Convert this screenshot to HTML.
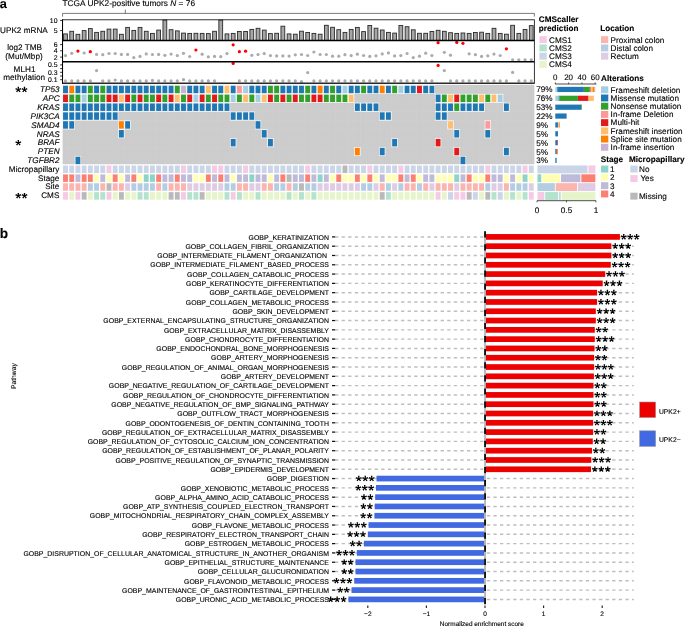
<!DOCTYPE html>
<html><head><meta charset="utf-8"><title>Figure</title>
<style>html,body{margin:0;padding:0;background:#fff}svg{display:block;will-change:transform}text{font-family:"Liberation Sans",sans-serif;fill:#000;stroke:#000;stroke-width:1.2px;text-rendering:geometricPrecision}</style>
</head><body>
<svg width="685" height="627" viewBox="0 0 685 627">
<rect width="685" height="627" fill="#fff"/>
<defs><path id="st" d="M0.42 0.00L0.78 -2.85L-0.78 -2.85L-0.42 -0.00ZM0.13 0.40L2.95 -0.14L2.47 -1.62L-0.13 -0.40ZM-0.34 0.25L1.04 2.76L2.31 1.85L0.34 -0.25ZM-0.34 -0.25L-2.31 1.85L-1.04 2.76L0.34 0.25ZM0.13 -0.40L-2.47 -1.62L-2.95 -0.14L-0.13 0.40Z" fill="#000"/></defs>
<text transform="translate(-0.20,7.50) scale(0.1)" font-size="128.0" text-anchor="start" font-weight="bold" font-style="normal" >a</text>
<text transform="translate(62.40,6.40) scale(0.1)" font-size="83.3" text-anchor="start" font-weight="normal" font-style="normal" >TCGA UPK2-positive tumors <tspan font-style="italic">N</tspan> = 76</text>
<path d="M62.55 16.6V13.4H534.36V16.6M125.3 13.4V9.6" fill="none" stroke="#222" stroke-width="0.6"/>
<rect x="63.60" y="33.90" width="3.80" height="6.60" fill="#a6a6a6" stroke="#2a2a2a" stroke-width="0.9"/>
<rect x="69.81" y="31.30" width="3.80" height="9.20" fill="#a6a6a6" stroke="#2a2a2a" stroke-width="0.9"/>
<rect x="76.02" y="34.30" width="3.80" height="6.20" fill="#a6a6a6" stroke="#2a2a2a" stroke-width="0.9"/>
<rect x="82.23" y="30.60" width="3.80" height="9.90" fill="#a6a6a6" stroke="#2a2a2a" stroke-width="0.9"/>
<rect x="88.44" y="28.60" width="3.80" height="11.90" fill="#a6a6a6" stroke="#2a2a2a" stroke-width="0.9"/>
<rect x="94.66" y="32.40" width="3.80" height="8.10" fill="#a6a6a6" stroke="#2a2a2a" stroke-width="0.9"/>
<rect x="100.86" y="31.30" width="3.80" height="9.20" fill="#a6a6a6" stroke="#2a2a2a" stroke-width="0.9"/>
<rect x="107.08" y="29.10" width="3.80" height="11.40" fill="#a6a6a6" stroke="#2a2a2a" stroke-width="0.9"/>
<rect x="113.28" y="29.10" width="3.80" height="11.40" fill="#a6a6a6" stroke="#2a2a2a" stroke-width="0.9"/>
<rect x="119.49" y="34.30" width="3.80" height="6.20" fill="#a6a6a6" stroke="#2a2a2a" stroke-width="0.9"/>
<rect x="125.70" y="27.40" width="3.80" height="13.10" fill="#a6a6a6" stroke="#2a2a2a" stroke-width="0.9"/>
<rect x="131.91" y="30.40" width="3.80" height="10.10" fill="#a6a6a6" stroke="#2a2a2a" stroke-width="0.9"/>
<rect x="138.12" y="27.40" width="3.80" height="13.10" fill="#a6a6a6" stroke="#2a2a2a" stroke-width="0.9"/>
<rect x="144.33" y="31.30" width="3.80" height="9.20" fill="#a6a6a6" stroke="#2a2a2a" stroke-width="0.9"/>
<rect x="150.54" y="33.40" width="3.80" height="7.10" fill="#a6a6a6" stroke="#2a2a2a" stroke-width="0.9"/>
<rect x="156.75" y="30.10" width="3.80" height="10.40" fill="#a6a6a6" stroke="#2a2a2a" stroke-width="0.9"/>
<rect x="162.96" y="20.10" width="3.80" height="20.40" fill="#a6a6a6" stroke="#2a2a2a" stroke-width="0.9"/>
<rect x="169.17" y="29.70" width="3.80" height="10.80" fill="#a6a6a6" stroke="#2a2a2a" stroke-width="0.9"/>
<rect x="175.38" y="30.90" width="3.80" height="9.60" fill="#a6a6a6" stroke="#2a2a2a" stroke-width="0.9"/>
<rect x="181.59" y="33.10" width="3.80" height="7.40" fill="#a6a6a6" stroke="#2a2a2a" stroke-width="0.9"/>
<rect x="187.80" y="33.40" width="3.80" height="7.10" fill="#a6a6a6" stroke="#2a2a2a" stroke-width="0.9"/>
<rect x="194.01" y="33.30" width="3.80" height="7.20" fill="#a6a6a6" stroke="#2a2a2a" stroke-width="0.9"/>
<rect x="200.22" y="33.40" width="3.80" height="7.10" fill="#a6a6a6" stroke="#2a2a2a" stroke-width="0.9"/>
<rect x="206.44" y="33.60" width="3.80" height="6.90" fill="#a6a6a6" stroke="#2a2a2a" stroke-width="0.9"/>
<rect x="212.64" y="31.30" width="3.80" height="9.20" fill="#a6a6a6" stroke="#2a2a2a" stroke-width="0.9"/>
<rect x="218.85" y="20.10" width="3.80" height="20.40" fill="#a6a6a6" stroke="#2a2a2a" stroke-width="0.9"/>
<rect x="225.06" y="33.90" width="3.80" height="6.60" fill="#a6a6a6" stroke="#2a2a2a" stroke-width="0.9"/>
<rect x="231.27" y="33.40" width="3.80" height="7.10" fill="#a6a6a6" stroke="#2a2a2a" stroke-width="0.9"/>
<rect x="237.48" y="31.50" width="3.80" height="9.00" fill="#a6a6a6" stroke="#2a2a2a" stroke-width="0.9"/>
<rect x="243.69" y="31.50" width="3.80" height="9.00" fill="#a6a6a6" stroke="#2a2a2a" stroke-width="0.9"/>
<rect x="249.91" y="29.40" width="3.80" height="11.10" fill="#a6a6a6" stroke="#2a2a2a" stroke-width="0.9"/>
<rect x="256.12" y="28.30" width="3.80" height="12.20" fill="#a6a6a6" stroke="#2a2a2a" stroke-width="0.9"/>
<rect x="262.33" y="30.10" width="3.80" height="10.40" fill="#a6a6a6" stroke="#2a2a2a" stroke-width="0.9"/>
<rect x="268.54" y="33.60" width="3.80" height="6.90" fill="#a6a6a6" stroke="#2a2a2a" stroke-width="0.9"/>
<rect x="274.75" y="33.30" width="3.80" height="7.20" fill="#a6a6a6" stroke="#2a2a2a" stroke-width="0.9"/>
<rect x="280.96" y="26.20" width="3.80" height="14.30" fill="#a6a6a6" stroke="#2a2a2a" stroke-width="0.9"/>
<rect x="287.17" y="33.90" width="3.80" height="6.60" fill="#a6a6a6" stroke="#2a2a2a" stroke-width="0.9"/>
<rect x="293.38" y="34.20" width="3.80" height="6.30" fill="#a6a6a6" stroke="#2a2a2a" stroke-width="0.9"/>
<rect x="299.59" y="31.20" width="3.80" height="9.30" fill="#a6a6a6" stroke="#2a2a2a" stroke-width="0.9"/>
<rect x="305.80" y="32.50" width="3.80" height="8.00" fill="#a6a6a6" stroke="#2a2a2a" stroke-width="0.9"/>
<rect x="312.01" y="33.40" width="3.80" height="7.10" fill="#a6a6a6" stroke="#2a2a2a" stroke-width="0.9"/>
<rect x="318.22" y="34.20" width="3.80" height="6.30" fill="#a6a6a6" stroke="#2a2a2a" stroke-width="0.9"/>
<rect x="324.43" y="25.30" width="3.80" height="15.20" fill="#a6a6a6" stroke="#2a2a2a" stroke-width="0.9"/>
<rect x="330.63" y="27.30" width="3.80" height="13.20" fill="#a6a6a6" stroke="#2a2a2a" stroke-width="0.9"/>
<rect x="336.85" y="29.70" width="3.80" height="10.80" fill="#a6a6a6" stroke="#2a2a2a" stroke-width="0.9"/>
<rect x="343.06" y="32.40" width="3.80" height="8.10" fill="#a6a6a6" stroke="#2a2a2a" stroke-width="0.9"/>
<rect x="349.27" y="29.40" width="3.80" height="11.10" fill="#a6a6a6" stroke="#2a2a2a" stroke-width="0.9"/>
<rect x="355.48" y="27.40" width="3.80" height="13.10" fill="#a6a6a6" stroke="#2a2a2a" stroke-width="0.9"/>
<rect x="361.69" y="31.60" width="3.80" height="8.90" fill="#a6a6a6" stroke="#2a2a2a" stroke-width="0.9"/>
<rect x="367.90" y="25.50" width="3.80" height="15.00" fill="#a6a6a6" stroke="#2a2a2a" stroke-width="0.9"/>
<rect x="374.11" y="28.20" width="3.80" height="12.30" fill="#a6a6a6" stroke="#2a2a2a" stroke-width="0.9"/>
<rect x="380.31" y="30.00" width="3.80" height="10.50" fill="#a6a6a6" stroke="#2a2a2a" stroke-width="0.9"/>
<rect x="386.53" y="32.40" width="3.80" height="8.10" fill="#a6a6a6" stroke="#2a2a2a" stroke-width="0.9"/>
<rect x="392.74" y="33.10" width="3.80" height="7.40" fill="#a6a6a6" stroke="#2a2a2a" stroke-width="0.9"/>
<rect x="398.94" y="25.50" width="3.80" height="15.00" fill="#a6a6a6" stroke="#2a2a2a" stroke-width="0.9"/>
<rect x="405.16" y="26.70" width="3.80" height="13.80" fill="#a6a6a6" stroke="#2a2a2a" stroke-width="0.9"/>
<rect x="411.37" y="29.80" width="3.80" height="10.70" fill="#a6a6a6" stroke="#2a2a2a" stroke-width="0.9"/>
<rect x="417.57" y="33.30" width="3.80" height="7.20" fill="#a6a6a6" stroke="#2a2a2a" stroke-width="0.9"/>
<rect x="423.79" y="33.30" width="3.80" height="7.20" fill="#a6a6a6" stroke="#2a2a2a" stroke-width="0.9"/>
<rect x="430.00" y="31.50" width="3.80" height="9.00" fill="#a6a6a6" stroke="#2a2a2a" stroke-width="0.9"/>
<rect x="436.21" y="30.30" width="3.80" height="10.20" fill="#a6a6a6" stroke="#2a2a2a" stroke-width="0.9"/>
<rect x="442.42" y="31.30" width="3.80" height="9.20" fill="#a6a6a6" stroke="#2a2a2a" stroke-width="0.9"/>
<rect x="448.62" y="32.70" width="3.80" height="7.80" fill="#a6a6a6" stroke="#2a2a2a" stroke-width="0.9"/>
<rect x="454.84" y="33.40" width="3.80" height="7.10" fill="#a6a6a6" stroke="#2a2a2a" stroke-width="0.9"/>
<rect x="461.05" y="33.00" width="3.80" height="7.50" fill="#a6a6a6" stroke="#2a2a2a" stroke-width="0.9"/>
<rect x="467.25" y="33.40" width="3.80" height="7.10" fill="#a6a6a6" stroke="#2a2a2a" stroke-width="0.9"/>
<rect x="473.47" y="32.50" width="3.80" height="8.00" fill="#a6a6a6" stroke="#2a2a2a" stroke-width="0.9"/>
<rect x="479.68" y="32.20" width="3.80" height="8.30" fill="#a6a6a6" stroke="#2a2a2a" stroke-width="0.9"/>
<rect x="485.88" y="33.40" width="3.80" height="7.10" fill="#a6a6a6" stroke="#2a2a2a" stroke-width="0.9"/>
<rect x="492.10" y="28.30" width="3.80" height="12.20" fill="#a6a6a6" stroke="#2a2a2a" stroke-width="0.9"/>
<rect x="498.31" y="33.40" width="3.80" height="7.10" fill="#a6a6a6" stroke="#2a2a2a" stroke-width="0.9"/>
<rect x="504.52" y="34.20" width="3.80" height="6.30" fill="#a6a6a6" stroke="#2a2a2a" stroke-width="0.9"/>
<rect x="510.73" y="25.30" width="3.80" height="15.20" fill="#a6a6a6" stroke="#2a2a2a" stroke-width="0.9"/>
<rect x="516.94" y="33.40" width="3.80" height="7.10" fill="#a6a6a6" stroke="#2a2a2a" stroke-width="0.9"/>
<rect x="523.15" y="29.50" width="3.80" height="11.00" fill="#a6a6a6" stroke="#2a2a2a" stroke-width="0.9"/>
<rect x="529.36" y="25.60" width="3.80" height="14.90" fill="#a6a6a6" stroke="#2a2a2a" stroke-width="0.9"/>
<circle cx="65.50" cy="55.60" r="1.6" fill="#ababab"/>
<circle cx="71.72" cy="53.30" r="1.6" fill="#ababab"/>
<circle cx="77.92" cy="51.10" r="1.6" fill="#ff0000"/>
<circle cx="84.14" cy="53.00" r="1.6" fill="#ababab"/>
<circle cx="90.34" cy="51.70" r="1.6" fill="#ff0000"/>
<circle cx="96.56" cy="54.40" r="1.6" fill="#ababab"/>
<circle cx="102.77" cy="54.70" r="1.6" fill="#ababab"/>
<circle cx="108.98" cy="53.50" r="1.6" fill="#ababab"/>
<circle cx="115.19" cy="53.50" r="1.6" fill="#ababab"/>
<circle cx="121.39" cy="54.40" r="1.6" fill="#ababab"/>
<circle cx="127.61" cy="54.40" r="1.6" fill="#ababab"/>
<circle cx="133.81" cy="57.60" r="1.6" fill="#ababab"/>
<circle cx="140.02" cy="56.40" r="1.6" fill="#ababab"/>
<circle cx="146.23" cy="53.90" r="1.6" fill="#ababab"/>
<circle cx="152.44" cy="54.50" r="1.6" fill="#ababab"/>
<circle cx="158.66" cy="54.40" r="1.6" fill="#ababab"/>
<circle cx="164.86" cy="55.30" r="1.6" fill="#ababab"/>
<circle cx="171.07" cy="54.10" r="1.6" fill="#ababab"/>
<circle cx="177.28" cy="55.60" r="1.6" fill="#ababab"/>
<circle cx="183.49" cy="53.30" r="1.6" fill="#ababab"/>
<circle cx="189.70" cy="56.50" r="1.6" fill="#ababab"/>
<circle cx="195.91" cy="50.00" r="1.6" fill="#ff0000"/>
<circle cx="202.12" cy="54.20" r="1.6" fill="#ababab"/>
<circle cx="208.34" cy="56.80" r="1.6" fill="#ababab"/>
<circle cx="214.54" cy="56.40" r="1.6" fill="#ababab"/>
<circle cx="220.75" cy="56.70" r="1.6" fill="#ababab"/>
<circle cx="226.97" cy="53.60" r="1.6" fill="#ababab"/>
<circle cx="233.17" cy="44.80" r="1.6" fill="#ff0000"/>
<circle cx="239.38" cy="51.70" r="1.6" fill="#ff0000"/>
<circle cx="245.59" cy="51.20" r="1.6" fill="#ff0000"/>
<circle cx="251.81" cy="55.30" r="1.6" fill="#ababab"/>
<circle cx="258.01" cy="54.50" r="1.6" fill="#ababab"/>
<circle cx="264.23" cy="53.60" r="1.6" fill="#ababab"/>
<circle cx="270.44" cy="55.60" r="1.6" fill="#ababab"/>
<circle cx="276.64" cy="55.90" r="1.6" fill="#ababab"/>
<circle cx="282.86" cy="55.90" r="1.6" fill="#ababab"/>
<circle cx="289.06" cy="56.10" r="1.6" fill="#ababab"/>
<circle cx="295.28" cy="54.80" r="1.6" fill="#ababab"/>
<circle cx="301.49" cy="54.50" r="1.6" fill="#ababab"/>
<circle cx="307.69" cy="55.50" r="1.6" fill="#ababab"/>
<circle cx="313.91" cy="52.00" r="1.6" fill="#ababab"/>
<circle cx="320.12" cy="54.50" r="1.6" fill="#ababab"/>
<circle cx="326.32" cy="54.50" r="1.6" fill="#ababab"/>
<circle cx="332.53" cy="56.20" r="1.6" fill="#ababab"/>
<circle cx="338.75" cy="56.20" r="1.6" fill="#ababab"/>
<circle cx="344.95" cy="54.70" r="1.6" fill="#ababab"/>
<circle cx="351.17" cy="55.60" r="1.6" fill="#ababab"/>
<circle cx="357.38" cy="54.20" r="1.6" fill="#ababab"/>
<circle cx="363.58" cy="55.50" r="1.6" fill="#ababab"/>
<circle cx="369.80" cy="56.40" r="1.6" fill="#ababab"/>
<circle cx="376.00" cy="55.80" r="1.6" fill="#ababab"/>
<circle cx="382.21" cy="53.90" r="1.6" fill="#ababab"/>
<circle cx="388.43" cy="52.90" r="1.6" fill="#ababab"/>
<circle cx="394.63" cy="55.90" r="1.6" fill="#ababab"/>
<circle cx="400.84" cy="55.60" r="1.6" fill="#ababab"/>
<circle cx="407.06" cy="53.50" r="1.6" fill="#ababab"/>
<circle cx="413.26" cy="57.60" r="1.6" fill="#ababab"/>
<circle cx="419.47" cy="56.20" r="1.6" fill="#ababab"/>
<circle cx="425.69" cy="53.20" r="1.6" fill="#ababab"/>
<circle cx="431.89" cy="55.50" r="1.6" fill="#ababab"/>
<circle cx="438.11" cy="42.70" r="1.6" fill="#ff0000"/>
<circle cx="444.31" cy="52.30" r="1.6" fill="#ababab"/>
<circle cx="450.52" cy="55.20" r="1.6" fill="#ababab"/>
<circle cx="456.74" cy="42.40" r="1.6" fill="#ff0000"/>
<circle cx="462.94" cy="43.30" r="1.6" fill="#ff0000"/>
<circle cx="469.15" cy="53.80" r="1.6" fill="#ababab"/>
<circle cx="475.37" cy="54.70" r="1.6" fill="#ababab"/>
<circle cx="481.57" cy="56.40" r="1.6" fill="#ababab"/>
<circle cx="487.78" cy="55.80" r="1.6" fill="#ababab"/>
<circle cx="494.00" cy="54.10" r="1.6" fill="#ababab"/>
<circle cx="500.20" cy="55.50" r="1.6" fill="#ababab"/>
<circle cx="506.42" cy="48.80" r="1.6" fill="#ff0000"/>
<circle cx="512.62" cy="59.80" r="1.6" fill="#ababab"/>
<circle cx="518.84" cy="59.80" r="1.6" fill="#ababab"/>
<circle cx="525.05" cy="59.80" r="1.6" fill="#ababab"/>
<circle cx="531.25" cy="59.80" r="1.6" fill="#ababab"/>
<circle cx="65.50" cy="80.90" r="1.6" fill="#ababab"/>
<circle cx="71.72" cy="80.90" r="1.6" fill="#ababab"/>
<circle cx="77.92" cy="80.90" r="1.6" fill="#ababab"/>
<circle cx="84.14" cy="80.90" r="1.6" fill="#ababab"/>
<circle cx="90.34" cy="80.90" r="1.6" fill="#ababab"/>
<circle cx="96.56" cy="70.60" r="1.6" fill="#ababab"/>
<circle cx="102.77" cy="80.90" r="1.6" fill="#ababab"/>
<circle cx="108.98" cy="80.90" r="1.6" fill="#ababab"/>
<circle cx="115.19" cy="80.10" r="1.6" fill="#ababab"/>
<circle cx="121.39" cy="80.90" r="1.6" fill="#ababab"/>
<circle cx="127.61" cy="80.90" r="1.6" fill="#ababab"/>
<circle cx="133.81" cy="80.90" r="1.6" fill="#ababab"/>
<circle cx="140.02" cy="80.90" r="1.6" fill="#ababab"/>
<circle cx="146.23" cy="80.90" r="1.6" fill="#ababab"/>
<circle cx="152.44" cy="80.40" r="1.6" fill="#ababab"/>
<circle cx="158.66" cy="80.90" r="1.6" fill="#ababab"/>
<circle cx="164.86" cy="80.90" r="1.6" fill="#ababab"/>
<circle cx="171.07" cy="80.90" r="1.6" fill="#ababab"/>
<circle cx="177.28" cy="80.90" r="1.6" fill="#ababab"/>
<circle cx="183.49" cy="79.70" r="1.6" fill="#ababab"/>
<circle cx="189.70" cy="80.90" r="1.6" fill="#ababab"/>
<circle cx="195.91" cy="80.90" r="1.6" fill="#ababab"/>
<circle cx="202.12" cy="80.90" r="1.6" fill="#ababab"/>
<circle cx="208.34" cy="80.90" r="1.6" fill="#ababab"/>
<circle cx="214.54" cy="80.90" r="1.6" fill="#ababab"/>
<circle cx="233.17" cy="63.40" r="1.6" fill="#ff0000"/>
<circle cx="239.38" cy="80.90" r="1.6" fill="#ababab"/>
<circle cx="245.59" cy="80.90" r="1.6" fill="#ababab"/>
<circle cx="251.81" cy="80.90" r="1.6" fill="#ababab"/>
<circle cx="258.01" cy="80.90" r="1.6" fill="#ababab"/>
<circle cx="264.23" cy="80.90" r="1.6" fill="#ababab"/>
<circle cx="270.44" cy="80.90" r="1.6" fill="#ababab"/>
<circle cx="276.64" cy="80.90" r="1.6" fill="#ababab"/>
<circle cx="282.86" cy="80.90" r="1.6" fill="#ababab"/>
<circle cx="289.06" cy="80.90" r="1.6" fill="#ababab"/>
<circle cx="295.28" cy="80.90" r="1.6" fill="#ababab"/>
<circle cx="301.49" cy="81.50" r="1.6" fill="#ababab"/>
<circle cx="307.69" cy="72.60" r="1.6" fill="#ababab"/>
<circle cx="313.91" cy="80.90" r="1.6" fill="#ababab"/>
<circle cx="320.12" cy="80.90" r="1.6" fill="#ababab"/>
<circle cx="326.32" cy="80.90" r="1.6" fill="#ababab"/>
<circle cx="332.53" cy="80.90" r="1.6" fill="#ababab"/>
<circle cx="338.75" cy="80.90" r="1.6" fill="#ababab"/>
<circle cx="344.95" cy="80.90" r="1.6" fill="#ababab"/>
<circle cx="351.17" cy="80.90" r="1.6" fill="#ababab"/>
<circle cx="357.38" cy="80.90" r="1.6" fill="#ababab"/>
<circle cx="363.58" cy="80.90" r="1.6" fill="#ababab"/>
<circle cx="369.80" cy="80.90" r="1.6" fill="#ababab"/>
<circle cx="376.00" cy="80.90" r="1.6" fill="#ababab"/>
<circle cx="382.21" cy="80.90" r="1.6" fill="#ababab"/>
<circle cx="388.43" cy="80.90" r="1.6" fill="#ababab"/>
<circle cx="394.63" cy="80.90" r="1.6" fill="#ababab"/>
<circle cx="400.84" cy="80.90" r="1.6" fill="#ababab"/>
<circle cx="407.06" cy="80.90" r="1.6" fill="#ababab"/>
<circle cx="413.26" cy="80.90" r="1.6" fill="#ababab"/>
<circle cx="419.47" cy="80.90" r="1.6" fill="#ababab"/>
<circle cx="425.69" cy="80.90" r="1.6" fill="#ababab"/>
<circle cx="431.89" cy="80.90" r="1.6" fill="#ababab"/>
<circle cx="438.11" cy="65.40" r="1.6" fill="#ff0000"/>
<circle cx="444.31" cy="70.60" r="1.6" fill="#ababab"/>
<circle cx="450.52" cy="80.90" r="1.6" fill="#ababab"/>
<circle cx="456.74" cy="80.90" r="1.6" fill="#ababab"/>
<circle cx="462.94" cy="80.90" r="1.6" fill="#ababab"/>
<circle cx="469.15" cy="80.90" r="1.6" fill="#ababab"/>
<circle cx="475.37" cy="80.90" r="1.6" fill="#ababab"/>
<circle cx="481.57" cy="80.90" r="1.6" fill="#ababab"/>
<circle cx="487.78" cy="80.90" r="1.6" fill="#ababab"/>
<circle cx="494.00" cy="80.90" r="1.6" fill="#ababab"/>
<circle cx="500.20" cy="80.90" r="1.6" fill="#ababab"/>
<circle cx="506.42" cy="80.90" r="1.6" fill="#ababab"/>
<circle cx="512.62" cy="72.40" r="1.6" fill="#ababab"/>
<circle cx="518.84" cy="80.90" r="1.6" fill="#ababab"/>
<circle cx="525.05" cy="80.90" r="1.6" fill="#ababab"/>
<circle cx="531.25" cy="80.90" r="1.6" fill="#ababab"/>
<rect x="62.55" y="19.8" width="471.81" height="63.400000000000006" fill="none" stroke="#111" stroke-width="0.85"/>
<line x1="62.55" y1="19.45" x2="62.55" y2="83.70" stroke="#000" stroke-width="1.0" />
<line x1="62.05" y1="40.50" x2="534.36" y2="40.50" stroke="#000" stroke-width="1.6" />
<line x1="62.05" y1="61.80" x2="534.36" y2="61.80" stroke="#000" stroke-width="1.6" />
<line x1="62.05" y1="83.20" x2="534.36" y2="83.20" stroke="#000" stroke-width="0.85" />
<line x1="60.10" y1="20.40" x2="62.30" y2="20.40" stroke="#000" stroke-width="0.8" />
<text transform="translate(57.50,22.85) scale(0.1)" font-size="69.0" text-anchor="end" font-weight="normal" font-style="normal" >10</text>
<line x1="60.10" y1="30.60" x2="62.30" y2="30.60" stroke="#000" stroke-width="0.8" />
<text transform="translate(57.50,33.05) scale(0.1)" font-size="69.0" text-anchor="end" font-weight="normal" font-style="normal" >5</text>
<line x1="60.10" y1="44.60" x2="62.30" y2="44.60" stroke="#000" stroke-width="0.8" />
<text transform="translate(57.50,47.05) scale(0.1)" font-size="69.0" text-anchor="end" font-weight="normal" font-style="normal" >6</text>
<line x1="60.10" y1="50.80" x2="62.30" y2="50.80" stroke="#000" stroke-width="0.8" />
<text transform="translate(57.50,53.25) scale(0.1)" font-size="69.0" text-anchor="end" font-weight="normal" font-style="normal" >4</text>
<line x1="60.10" y1="57.10" x2="62.30" y2="57.10" stroke="#000" stroke-width="0.8" />
<text transform="translate(57.50,59.55) scale(0.1)" font-size="69.0" text-anchor="end" font-weight="normal" font-style="normal" >2</text>
<line x1="60.10" y1="64.90" x2="62.30" y2="64.90" stroke="#000" stroke-width="0.8" />
<text transform="translate(57.50,67.35) scale(0.1)" font-size="69.0" text-anchor="end" font-weight="normal" font-style="normal" >0.5</text>
<line x1="60.10" y1="68.60" x2="62.30" y2="68.60" stroke="#000" stroke-width="0.8" />
<line x1="60.10" y1="72.30" x2="62.30" y2="72.30" stroke="#000" stroke-width="0.8" />
<text transform="translate(57.50,74.75) scale(0.1)" font-size="69.0" text-anchor="end" font-weight="normal" font-style="normal" >0.3</text>
<line x1="60.10" y1="76.00" x2="62.30" y2="76.00" stroke="#000" stroke-width="0.8" />
<line x1="60.10" y1="79.70" x2="62.30" y2="79.70" stroke="#000" stroke-width="0.8" />
<text transform="translate(57.50,82.15) scale(0.1)" font-size="69.0" text-anchor="end" font-weight="normal" font-style="normal" >0.1</text>
<text transform="translate(0.00,33.30) scale(0.1)" font-size="82.0" text-anchor="start" font-weight="normal" font-style="normal" >UPK2 mRNA</text>
<text transform="translate(24.60,50.40) scale(0.1)" font-size="82.0" text-anchor="middle" font-weight="normal" font-style="normal" >log2 TMB</text>
<text transform="translate(24.00,58.50) scale(0.1)" font-size="82.0" text-anchor="middle" font-weight="normal" font-style="normal" >(Mut/Mbp)</text>
<text transform="translate(24.50,71.60) scale(0.1)" font-size="82.0" text-anchor="middle" font-weight="normal" font-style="normal" >MLH1</text>
<text transform="translate(24.20,80.00) scale(0.1)" font-size="82.0" text-anchor="middle" font-weight="normal" font-style="normal" >methylation</text>
<rect x="62.60" y="84.80" width="471.76" height="79.43" fill="#cccccc" />
<line x1="68.61" y1="84.80" x2="68.61" y2="164.23" stroke="#d2d2d2" stroke-width="0.3" />
<line x1="74.82" y1="84.80" x2="74.82" y2="164.23" stroke="#d2d2d2" stroke-width="0.3" />
<line x1="81.03" y1="84.80" x2="81.03" y2="164.23" stroke="#d2d2d2" stroke-width="0.3" />
<line x1="87.24" y1="84.80" x2="87.24" y2="164.23" stroke="#d2d2d2" stroke-width="0.3" />
<line x1="93.45" y1="84.80" x2="93.45" y2="164.23" stroke="#d2d2d2" stroke-width="0.3" />
<line x1="99.66" y1="84.80" x2="99.66" y2="164.23" stroke="#d2d2d2" stroke-width="0.3" />
<line x1="105.87" y1="84.80" x2="105.87" y2="164.23" stroke="#d2d2d2" stroke-width="0.3" />
<line x1="112.08" y1="84.80" x2="112.08" y2="164.23" stroke="#d2d2d2" stroke-width="0.3" />
<line x1="118.29" y1="84.80" x2="118.29" y2="164.23" stroke="#d2d2d2" stroke-width="0.3" />
<line x1="124.50" y1="84.80" x2="124.50" y2="164.23" stroke="#d2d2d2" stroke-width="0.3" />
<line x1="130.71" y1="84.80" x2="130.71" y2="164.23" stroke="#d2d2d2" stroke-width="0.3" />
<line x1="136.92" y1="84.80" x2="136.92" y2="164.23" stroke="#d2d2d2" stroke-width="0.3" />
<line x1="143.13" y1="84.80" x2="143.13" y2="164.23" stroke="#d2d2d2" stroke-width="0.3" />
<line x1="149.34" y1="84.80" x2="149.34" y2="164.23" stroke="#d2d2d2" stroke-width="0.3" />
<line x1="155.55" y1="84.80" x2="155.55" y2="164.23" stroke="#d2d2d2" stroke-width="0.3" />
<line x1="161.76" y1="84.80" x2="161.76" y2="164.23" stroke="#d2d2d2" stroke-width="0.3" />
<line x1="167.97" y1="84.80" x2="167.97" y2="164.23" stroke="#d2d2d2" stroke-width="0.3" />
<line x1="174.18" y1="84.80" x2="174.18" y2="164.23" stroke="#d2d2d2" stroke-width="0.3" />
<line x1="180.39" y1="84.80" x2="180.39" y2="164.23" stroke="#d2d2d2" stroke-width="0.3" />
<line x1="186.60" y1="84.80" x2="186.60" y2="164.23" stroke="#d2d2d2" stroke-width="0.3" />
<line x1="192.81" y1="84.80" x2="192.81" y2="164.23" stroke="#d2d2d2" stroke-width="0.3" />
<line x1="199.02" y1="84.80" x2="199.02" y2="164.23" stroke="#d2d2d2" stroke-width="0.3" />
<line x1="205.23" y1="84.80" x2="205.23" y2="164.23" stroke="#d2d2d2" stroke-width="0.3" />
<line x1="211.44" y1="84.80" x2="211.44" y2="164.23" stroke="#d2d2d2" stroke-width="0.3" />
<line x1="217.65" y1="84.80" x2="217.65" y2="164.23" stroke="#d2d2d2" stroke-width="0.3" />
<line x1="223.86" y1="84.80" x2="223.86" y2="164.23" stroke="#d2d2d2" stroke-width="0.3" />
<line x1="230.07" y1="84.80" x2="230.07" y2="164.23" stroke="#d2d2d2" stroke-width="0.3" />
<line x1="236.28" y1="84.80" x2="236.28" y2="164.23" stroke="#d2d2d2" stroke-width="0.3" />
<line x1="242.49" y1="84.80" x2="242.49" y2="164.23" stroke="#d2d2d2" stroke-width="0.3" />
<line x1="248.70" y1="84.80" x2="248.70" y2="164.23" stroke="#d2d2d2" stroke-width="0.3" />
<line x1="254.91" y1="84.80" x2="254.91" y2="164.23" stroke="#d2d2d2" stroke-width="0.3" />
<line x1="261.12" y1="84.80" x2="261.12" y2="164.23" stroke="#d2d2d2" stroke-width="0.3" />
<line x1="267.33" y1="84.80" x2="267.33" y2="164.23" stroke="#d2d2d2" stroke-width="0.3" />
<line x1="273.54" y1="84.80" x2="273.54" y2="164.23" stroke="#d2d2d2" stroke-width="0.3" />
<line x1="279.75" y1="84.80" x2="279.75" y2="164.23" stroke="#d2d2d2" stroke-width="0.3" />
<line x1="285.96" y1="84.80" x2="285.96" y2="164.23" stroke="#d2d2d2" stroke-width="0.3" />
<line x1="292.17" y1="84.80" x2="292.17" y2="164.23" stroke="#d2d2d2" stroke-width="0.3" />
<line x1="298.38" y1="84.80" x2="298.38" y2="164.23" stroke="#d2d2d2" stroke-width="0.3" />
<line x1="304.59" y1="84.80" x2="304.59" y2="164.23" stroke="#d2d2d2" stroke-width="0.3" />
<line x1="310.80" y1="84.80" x2="310.80" y2="164.23" stroke="#d2d2d2" stroke-width="0.3" />
<line x1="317.01" y1="84.80" x2="317.01" y2="164.23" stroke="#d2d2d2" stroke-width="0.3" />
<line x1="323.22" y1="84.80" x2="323.22" y2="164.23" stroke="#d2d2d2" stroke-width="0.3" />
<line x1="329.43" y1="84.80" x2="329.43" y2="164.23" stroke="#d2d2d2" stroke-width="0.3" />
<line x1="335.64" y1="84.80" x2="335.64" y2="164.23" stroke="#d2d2d2" stroke-width="0.3" />
<line x1="341.85" y1="84.80" x2="341.85" y2="164.23" stroke="#d2d2d2" stroke-width="0.3" />
<line x1="348.06" y1="84.80" x2="348.06" y2="164.23" stroke="#d2d2d2" stroke-width="0.3" />
<line x1="354.27" y1="84.80" x2="354.27" y2="164.23" stroke="#d2d2d2" stroke-width="0.3" />
<line x1="360.48" y1="84.80" x2="360.48" y2="164.23" stroke="#d2d2d2" stroke-width="0.3" />
<line x1="366.69" y1="84.80" x2="366.69" y2="164.23" stroke="#d2d2d2" stroke-width="0.3" />
<line x1="372.90" y1="84.80" x2="372.90" y2="164.23" stroke="#d2d2d2" stroke-width="0.3" />
<line x1="379.11" y1="84.80" x2="379.11" y2="164.23" stroke="#d2d2d2" stroke-width="0.3" />
<line x1="385.32" y1="84.80" x2="385.32" y2="164.23" stroke="#d2d2d2" stroke-width="0.3" />
<line x1="391.53" y1="84.80" x2="391.53" y2="164.23" stroke="#d2d2d2" stroke-width="0.3" />
<line x1="397.74" y1="84.80" x2="397.74" y2="164.23" stroke="#d2d2d2" stroke-width="0.3" />
<line x1="403.95" y1="84.80" x2="403.95" y2="164.23" stroke="#d2d2d2" stroke-width="0.3" />
<line x1="410.16" y1="84.80" x2="410.16" y2="164.23" stroke="#d2d2d2" stroke-width="0.3" />
<line x1="416.37" y1="84.80" x2="416.37" y2="164.23" stroke="#d2d2d2" stroke-width="0.3" />
<line x1="422.58" y1="84.80" x2="422.58" y2="164.23" stroke="#d2d2d2" stroke-width="0.3" />
<line x1="428.79" y1="84.80" x2="428.79" y2="164.23" stroke="#d2d2d2" stroke-width="0.3" />
<line x1="435.00" y1="84.80" x2="435.00" y2="164.23" stroke="#d2d2d2" stroke-width="0.3" />
<line x1="441.21" y1="84.80" x2="441.21" y2="164.23" stroke="#d2d2d2" stroke-width="0.3" />
<line x1="447.42" y1="84.80" x2="447.42" y2="164.23" stroke="#d2d2d2" stroke-width="0.3" />
<line x1="453.63" y1="84.80" x2="453.63" y2="164.23" stroke="#d2d2d2" stroke-width="0.3" />
<line x1="459.84" y1="84.80" x2="459.84" y2="164.23" stroke="#d2d2d2" stroke-width="0.3" />
<line x1="466.05" y1="84.80" x2="466.05" y2="164.23" stroke="#d2d2d2" stroke-width="0.3" />
<line x1="472.26" y1="84.80" x2="472.26" y2="164.23" stroke="#d2d2d2" stroke-width="0.3" />
<line x1="478.47" y1="84.80" x2="478.47" y2="164.23" stroke="#d2d2d2" stroke-width="0.3" />
<line x1="484.68" y1="84.80" x2="484.68" y2="164.23" stroke="#d2d2d2" stroke-width="0.3" />
<line x1="490.89" y1="84.80" x2="490.89" y2="164.23" stroke="#d2d2d2" stroke-width="0.3" />
<line x1="497.10" y1="84.80" x2="497.10" y2="164.23" stroke="#d2d2d2" stroke-width="0.3" />
<line x1="503.31" y1="84.80" x2="503.31" y2="164.23" stroke="#d2d2d2" stroke-width="0.3" />
<line x1="509.52" y1="84.80" x2="509.52" y2="164.23" stroke="#d2d2d2" stroke-width="0.3" />
<line x1="515.73" y1="84.80" x2="515.73" y2="164.23" stroke="#d2d2d2" stroke-width="0.3" />
<line x1="521.94" y1="84.80" x2="521.94" y2="164.23" stroke="#d2d2d2" stroke-width="0.3" />
<line x1="528.15" y1="84.80" x2="528.15" y2="164.23" stroke="#d2d2d2" stroke-width="0.3" />
<line x1="62.60" y1="93.89" x2="534.36" y2="93.89" stroke="#d2d2d2" stroke-width="0.3" />
<line x1="62.60" y1="102.76" x2="534.36" y2="102.76" stroke="#d2d2d2" stroke-width="0.3" />
<line x1="62.60" y1="111.63" x2="534.36" y2="111.63" stroke="#d2d2d2" stroke-width="0.3" />
<line x1="62.60" y1="120.50" x2="534.36" y2="120.50" stroke="#d2d2d2" stroke-width="0.3" />
<line x1="62.60" y1="129.37" x2="534.36" y2="129.37" stroke="#d2d2d2" stroke-width="0.3" />
<line x1="62.60" y1="138.24" x2="534.36" y2="138.24" stroke="#d2d2d2" stroke-width="0.3" />
<line x1="62.60" y1="147.11" x2="534.36" y2="147.11" stroke="#d2d2d2" stroke-width="0.3" />
<line x1="62.60" y1="155.98" x2="534.36" y2="155.98" stroke="#d2d2d2" stroke-width="0.3" />
<rect x="62.40" y="85.00" width="6.21" height="8.90" fill="#fff" />
<rect x="68.61" y="85.00" width="6.21" height="8.90" fill="#fff" />
<rect x="74.82" y="85.00" width="6.21" height="8.90" fill="#fff" />
<rect x="81.03" y="85.00" width="6.21" height="8.90" fill="#fff" />
<rect x="87.24" y="85.00" width="6.21" height="8.90" fill="#fff" />
<rect x="93.45" y="85.00" width="6.21" height="8.90" fill="#fff" />
<rect x="99.66" y="85.00" width="6.21" height="8.90" fill="#fff" />
<rect x="105.87" y="85.00" width="6.21" height="8.90" fill="#fff" />
<rect x="112.08" y="85.00" width="6.21" height="8.90" fill="#fff" />
<rect x="118.29" y="85.00" width="6.21" height="8.90" fill="#fff" />
<rect x="124.50" y="85.00" width="6.21" height="8.90" fill="#fff" />
<rect x="130.71" y="85.00" width="6.21" height="8.90" fill="#fff" />
<rect x="136.92" y="85.00" width="6.21" height="8.90" fill="#fff" />
<rect x="143.13" y="85.00" width="6.21" height="8.90" fill="#fff" />
<rect x="149.34" y="85.00" width="6.21" height="8.90" fill="#fff" />
<rect x="155.55" y="85.00" width="6.21" height="8.90" fill="#fff" />
<rect x="161.76" y="85.00" width="6.21" height="8.90" fill="#fff" />
<rect x="167.97" y="85.00" width="6.21" height="8.90" fill="#fff" />
<rect x="174.18" y="85.00" width="6.21" height="8.90" fill="#fff" />
<rect x="180.39" y="85.00" width="6.21" height="8.90" fill="#fff" />
<rect x="186.60" y="85.00" width="6.21" height="8.90" fill="#fff" />
<rect x="192.81" y="85.00" width="6.21" height="8.90" fill="#fff" />
<rect x="199.02" y="85.00" width="6.21" height="8.90" fill="#fff" />
<rect x="205.23" y="85.00" width="6.21" height="8.90" fill="#fff" />
<rect x="211.44" y="85.00" width="6.21" height="8.90" fill="#fff" />
<rect x="217.65" y="85.00" width="6.21" height="8.90" fill="#fff" />
<rect x="223.86" y="85.00" width="6.21" height="8.90" fill="#fff" />
<rect x="230.07" y="85.00" width="6.21" height="8.90" fill="#fff" />
<rect x="236.28" y="85.00" width="6.21" height="8.90" fill="#fff" />
<rect x="242.49" y="85.00" width="6.21" height="8.90" fill="#fff" />
<rect x="248.70" y="85.00" width="6.21" height="8.90" fill="#fff" />
<rect x="254.91" y="85.00" width="6.21" height="8.90" fill="#fff" />
<rect x="261.12" y="85.00" width="6.21" height="8.90" fill="#fff" />
<rect x="267.33" y="85.00" width="6.21" height="8.90" fill="#fff" />
<rect x="273.54" y="85.00" width="6.21" height="8.90" fill="#fff" />
<rect x="279.75" y="85.00" width="6.21" height="8.90" fill="#fff" />
<rect x="285.96" y="85.00" width="6.21" height="8.90" fill="#fff" />
<rect x="292.17" y="85.00" width="6.21" height="8.90" fill="#fff" />
<rect x="298.38" y="85.00" width="6.21" height="8.90" fill="#fff" />
<rect x="304.59" y="85.00" width="6.21" height="8.90" fill="#fff" />
<rect x="310.80" y="85.00" width="6.21" height="8.90" fill="#fff" />
<rect x="317.01" y="85.00" width="6.21" height="8.90" fill="#fff" />
<rect x="323.22" y="85.00" width="6.21" height="8.90" fill="#fff" />
<rect x="329.43" y="85.00" width="6.21" height="8.90" fill="#fff" />
<rect x="335.64" y="85.00" width="6.21" height="8.90" fill="#fff" />
<rect x="341.85" y="85.00" width="6.21" height="8.90" fill="#fff" />
<rect x="348.06" y="85.00" width="6.21" height="8.90" fill="#fff" />
<rect x="354.27" y="85.00" width="6.21" height="8.90" fill="#fff" />
<rect x="360.48" y="85.00" width="6.21" height="8.90" fill="#fff" />
<rect x="366.69" y="85.00" width="6.21" height="8.90" fill="#fff" />
<rect x="372.90" y="85.00" width="6.21" height="8.90" fill="#fff" />
<rect x="379.11" y="85.00" width="6.21" height="8.90" fill="#fff" />
<rect x="385.32" y="85.00" width="6.21" height="8.90" fill="#fff" />
<rect x="391.53" y="85.00" width="6.21" height="8.90" fill="#fff" />
<rect x="397.74" y="85.00" width="6.21" height="8.90" fill="#fff" />
<rect x="403.95" y="85.00" width="6.21" height="8.90" fill="#fff" />
<rect x="410.16" y="85.00" width="6.21" height="8.90" fill="#fff" />
<rect x="416.37" y="85.00" width="6.21" height="8.90" fill="#fff" />
<rect x="422.58" y="85.00" width="6.21" height="8.90" fill="#fff" />
<rect x="428.79" y="85.00" width="6.21" height="8.90" fill="#fff" />
<rect x="62.40" y="93.87" width="6.21" height="8.90" fill="#fff" />
<rect x="68.61" y="93.87" width="6.21" height="8.90" fill="#fff" />
<rect x="74.82" y="93.87" width="6.21" height="8.90" fill="#fff" />
<rect x="81.03" y="93.87" width="6.21" height="8.90" fill="#fff" />
<rect x="87.24" y="93.87" width="6.21" height="8.90" fill="#fff" />
<rect x="93.45" y="93.87" width="6.21" height="8.90" fill="#fff" />
<rect x="99.66" y="93.87" width="6.21" height="8.90" fill="#fff" />
<rect x="105.87" y="93.87" width="6.21" height="8.90" fill="#fff" />
<rect x="112.08" y="93.87" width="6.21" height="8.90" fill="#fff" />
<rect x="118.29" y="93.87" width="6.21" height="8.90" fill="#fff" />
<rect x="124.50" y="93.87" width="6.21" height="8.90" fill="#fff" />
<rect x="130.71" y="93.87" width="6.21" height="8.90" fill="#fff" />
<rect x="136.92" y="93.87" width="6.21" height="8.90" fill="#fff" />
<rect x="143.13" y="93.87" width="6.21" height="8.90" fill="#fff" />
<rect x="149.34" y="93.87" width="6.21" height="8.90" fill="#fff" />
<rect x="155.55" y="93.87" width="6.21" height="8.90" fill="#fff" />
<rect x="161.76" y="93.87" width="6.21" height="8.90" fill="#fff" />
<rect x="167.97" y="93.87" width="6.21" height="8.90" fill="#fff" />
<rect x="174.18" y="93.87" width="6.21" height="8.90" fill="#fff" />
<rect x="180.39" y="93.87" width="6.21" height="8.90" fill="#fff" />
<rect x="186.60" y="93.87" width="6.21" height="8.90" fill="#fff" />
<rect x="192.81" y="93.87" width="6.21" height="8.90" fill="#fff" />
<rect x="199.02" y="93.87" width="6.21" height="8.90" fill="#fff" />
<rect x="205.23" y="93.87" width="6.21" height="8.90" fill="#fff" />
<rect x="211.44" y="93.87" width="6.21" height="8.90" fill="#fff" />
<rect x="217.65" y="93.87" width="6.21" height="8.90" fill="#fff" />
<rect x="223.86" y="93.87" width="6.21" height="8.90" fill="#fff" />
<rect x="230.07" y="93.87" width="6.21" height="8.90" fill="#fff" />
<rect x="236.28" y="93.87" width="6.21" height="8.90" fill="#fff" />
<rect x="242.49" y="93.87" width="6.21" height="8.90" fill="#fff" />
<rect x="248.70" y="93.87" width="6.21" height="8.90" fill="#fff" />
<rect x="254.91" y="93.87" width="6.21" height="8.90" fill="#fff" />
<rect x="261.12" y="93.87" width="6.21" height="8.90" fill="#fff" />
<rect x="267.33" y="93.87" width="6.21" height="8.90" fill="#fff" />
<rect x="273.54" y="93.87" width="6.21" height="8.90" fill="#fff" />
<rect x="279.75" y="93.87" width="6.21" height="8.90" fill="#fff" />
<rect x="285.96" y="93.87" width="6.21" height="8.90" fill="#fff" />
<rect x="292.17" y="93.87" width="6.21" height="8.90" fill="#fff" />
<rect x="298.38" y="93.87" width="6.21" height="8.90" fill="#fff" />
<rect x="304.59" y="93.87" width="6.21" height="8.90" fill="#fff" />
<rect x="310.80" y="93.87" width="6.21" height="8.90" fill="#fff" />
<rect x="317.01" y="93.87" width="6.21" height="8.90" fill="#fff" />
<rect x="323.22" y="93.87" width="6.21" height="8.90" fill="#fff" />
<rect x="329.43" y="93.87" width="6.21" height="8.90" fill="#fff" />
<rect x="335.64" y="93.87" width="6.21" height="8.90" fill="#fff" />
<rect x="341.85" y="93.87" width="6.21" height="8.90" fill="#fff" />
<rect x="348.06" y="93.87" width="6.21" height="8.90" fill="#fff" />
<rect x="435.00" y="93.87" width="6.21" height="8.90" fill="#fff" />
<rect x="441.21" y="93.87" width="6.21" height="8.90" fill="#fff" />
<rect x="447.42" y="93.87" width="6.21" height="8.90" fill="#fff" />
<rect x="453.63" y="93.87" width="6.21" height="8.90" fill="#fff" />
<rect x="459.84" y="93.87" width="6.21" height="8.90" fill="#fff" />
<rect x="466.05" y="93.87" width="6.21" height="8.90" fill="#fff" />
<rect x="472.26" y="93.87" width="6.21" height="8.90" fill="#fff" />
<rect x="478.47" y="93.87" width="6.21" height="8.90" fill="#fff" />
<rect x="484.68" y="93.87" width="6.21" height="8.90" fill="#fff" />
<rect x="490.89" y="93.87" width="6.21" height="8.90" fill="#fff" />
<rect x="497.10" y="93.87" width="6.21" height="8.90" fill="#fff" />
<rect x="62.40" y="102.74" width="6.21" height="8.90" fill="#fff" />
<rect x="68.61" y="102.74" width="6.21" height="8.90" fill="#fff" />
<rect x="74.82" y="102.74" width="6.21" height="8.90" fill="#fff" />
<rect x="81.03" y="102.74" width="6.21" height="8.90" fill="#fff" />
<rect x="87.24" y="102.74" width="6.21" height="8.90" fill="#fff" />
<rect x="93.45" y="102.74" width="6.21" height="8.90" fill="#fff" />
<rect x="99.66" y="102.74" width="6.21" height="8.90" fill="#fff" />
<rect x="105.87" y="102.74" width="6.21" height="8.90" fill="#fff" />
<rect x="112.08" y="102.74" width="6.21" height="8.90" fill="#fff" />
<rect x="118.29" y="102.74" width="6.21" height="8.90" fill="#fff" />
<rect x="124.50" y="102.74" width="6.21" height="8.90" fill="#fff" />
<rect x="130.71" y="102.74" width="6.21" height="8.90" fill="#fff" />
<rect x="136.92" y="102.74" width="6.21" height="8.90" fill="#fff" />
<rect x="143.13" y="102.74" width="6.21" height="8.90" fill="#fff" />
<rect x="149.34" y="102.74" width="6.21" height="8.90" fill="#fff" />
<rect x="155.55" y="102.74" width="6.21" height="8.90" fill="#fff" />
<rect x="161.76" y="102.74" width="6.21" height="8.90" fill="#fff" />
<rect x="167.97" y="102.74" width="6.21" height="8.90" fill="#fff" />
<rect x="174.18" y="102.74" width="6.21" height="8.90" fill="#fff" />
<rect x="180.39" y="102.74" width="6.21" height="8.90" fill="#fff" />
<rect x="186.60" y="102.74" width="6.21" height="8.90" fill="#fff" />
<rect x="192.81" y="102.74" width="6.21" height="8.90" fill="#fff" />
<rect x="199.02" y="102.74" width="6.21" height="8.90" fill="#fff" />
<rect x="205.23" y="102.74" width="6.21" height="8.90" fill="#fff" />
<rect x="211.44" y="102.74" width="6.21" height="8.90" fill="#fff" />
<rect x="217.65" y="102.74" width="6.21" height="8.90" fill="#fff" />
<rect x="223.86" y="102.74" width="6.21" height="8.90" fill="#fff" />
<rect x="354.27" y="102.74" width="6.21" height="8.90" fill="#fff" />
<rect x="360.48" y="102.74" width="6.21" height="8.90" fill="#fff" />
<rect x="366.69" y="102.74" width="6.21" height="8.90" fill="#fff" />
<rect x="372.90" y="102.74" width="6.21" height="8.90" fill="#fff" />
<rect x="435.00" y="102.74" width="6.21" height="8.90" fill="#fff" />
<rect x="441.21" y="102.74" width="6.21" height="8.90" fill="#fff" />
<rect x="447.42" y="102.74" width="6.21" height="8.90" fill="#fff" />
<rect x="453.63" y="102.74" width="6.21" height="8.90" fill="#fff" />
<rect x="459.84" y="102.74" width="6.21" height="8.90" fill="#fff" />
<rect x="466.05" y="102.74" width="6.21" height="8.90" fill="#fff" />
<rect x="472.26" y="102.74" width="6.21" height="8.90" fill="#fff" />
<rect x="478.47" y="102.74" width="6.21" height="8.90" fill="#fff" />
<rect x="503.31" y="102.74" width="6.21" height="8.90" fill="#fff" />
<rect x="62.40" y="111.61" width="6.21" height="8.90" fill="#fff" />
<rect x="68.61" y="111.61" width="6.21" height="8.90" fill="#fff" />
<rect x="74.82" y="111.61" width="6.21" height="8.90" fill="#fff" />
<rect x="81.03" y="111.61" width="6.21" height="8.90" fill="#fff" />
<rect x="87.24" y="111.61" width="6.21" height="8.90" fill="#fff" />
<rect x="93.45" y="111.61" width="6.21" height="8.90" fill="#fff" />
<rect x="99.66" y="111.61" width="6.21" height="8.90" fill="#fff" />
<rect x="105.87" y="111.61" width="6.21" height="8.90" fill="#fff" />
<rect x="112.08" y="111.61" width="6.21" height="8.90" fill="#fff" />
<rect x="230.07" y="111.61" width="6.21" height="8.90" fill="#fff" />
<rect x="236.28" y="111.61" width="6.21" height="8.90" fill="#fff" />
<rect x="242.49" y="111.61" width="6.21" height="8.90" fill="#fff" />
<rect x="248.70" y="111.61" width="6.21" height="8.90" fill="#fff" />
<rect x="379.11" y="111.61" width="6.21" height="8.90" fill="#fff" />
<rect x="385.32" y="111.61" width="6.21" height="8.90" fill="#fff" />
<rect x="435.00" y="111.61" width="6.21" height="8.90" fill="#fff" />
<rect x="441.21" y="111.61" width="6.21" height="8.90" fill="#fff" />
<rect x="62.40" y="120.48" width="6.21" height="8.90" fill="#fff" />
<rect x="68.61" y="120.48" width="6.21" height="8.90" fill="#fff" />
<rect x="118.29" y="120.48" width="6.21" height="8.90" fill="#fff" />
<rect x="124.50" y="120.48" width="6.21" height="8.90" fill="#fff" />
<rect x="254.91" y="120.48" width="6.21" height="8.90" fill="#fff" />
<rect x="447.42" y="120.48" width="6.21" height="8.90" fill="#fff" />
<rect x="484.68" y="120.48" width="6.21" height="8.90" fill="#fff" />
<rect x="118.29" y="129.35" width="6.21" height="8.90" fill="#fff" />
<rect x="261.12" y="129.35" width="6.21" height="8.90" fill="#fff" />
<rect x="453.63" y="129.35" width="6.21" height="8.90" fill="#fff" />
<rect x="484.68" y="129.35" width="6.21" height="8.90" fill="#fff" />
<rect x="230.07" y="138.22" width="6.21" height="8.90" fill="#fff" />
<rect x="267.33" y="138.22" width="6.21" height="8.90" fill="#fff" />
<rect x="391.53" y="138.22" width="6.21" height="8.90" fill="#fff" />
<rect x="435.00" y="138.22" width="6.21" height="8.90" fill="#fff" />
<rect x="354.27" y="147.09" width="6.21" height="8.90" fill="#fff" />
<rect x="379.11" y="147.09" width="6.21" height="8.90" fill="#fff" />
<rect x="453.63" y="147.09" width="6.21" height="8.90" fill="#fff" />
<rect x="503.31" y="147.09" width="6.21" height="8.90" fill="#fff" />
<rect x="74.82" y="155.96" width="6.21" height="8.90" fill="#fff" />
<rect x="459.84" y="155.96" width="6.21" height="8.90" fill="#fff" />
<rect x="63.05" y="85.70" width="4.90" height="7.50" fill="#1f78b4" />
<rect x="69.27" y="85.70" width="4.90" height="7.50" fill="#ff7f00" />
<rect x="75.47" y="85.70" width="4.90" height="7.50" fill="#1f78b4" />
<rect x="81.69" y="85.70" width="4.90" height="7.50" fill="#1f78b4" />
<rect x="87.89" y="85.70" width="4.90" height="7.50" fill="#33a02c" />
<rect x="94.11" y="85.70" width="4.90" height="7.50" fill="#1f78b4" />
<rect x="100.31" y="85.70" width="4.90" height="7.50" fill="#33a02c" />
<rect x="106.53" y="85.70" width="4.90" height="7.50" fill="#1f78b4" />
<rect x="112.73" y="85.70" width="4.90" height="7.50" fill="#1f78b4" />
<rect x="118.94" y="85.70" width="4.90" height="7.50" fill="#1f78b4" />
<rect x="125.16" y="85.70" width="4.90" height="7.50" fill="#1f78b4" />
<rect x="131.37" y="85.70" width="4.90" height="7.50" fill="#1f78b4" />
<rect x="137.57" y="85.70" width="4.90" height="7.50" fill="#1f78b4" />
<rect x="143.78" y="85.70" width="4.90" height="7.50" fill="#1f78b4" />
<rect x="150.00" y="85.70" width="4.90" height="7.50" fill="#1f78b4" />
<rect x="156.21" y="85.70" width="4.90" height="7.50" fill="#1f78b4" />
<rect x="162.41" y="85.70" width="4.90" height="7.50" fill="#1f78b4" />
<rect x="168.62" y="85.70" width="4.90" height="7.50" fill="#1f78b4" />
<rect x="174.84" y="85.70" width="4.90" height="7.50" fill="#33a02c" />
<rect x="181.04" y="85.70" width="4.90" height="7.50" fill="#cab2d6" />
<rect x="187.25" y="85.70" width="4.90" height="7.50" fill="#1f78b4" />
<rect x="193.47" y="85.70" width="4.90" height="7.50" fill="#1f78b4" />
<rect x="199.68" y="85.70" width="4.90" height="7.50" fill="#1f78b4" />
<rect x="205.89" y="85.70" width="4.90" height="7.50" fill="#fdbf6f" />
<rect x="212.09" y="85.70" width="4.90" height="7.50" fill="#1f78b4" />
<rect x="218.31" y="85.70" width="4.90" height="7.50" fill="#1f78b4" />
<rect x="224.52" y="85.70" width="4.90" height="7.50" fill="#fdbf6f" />
<rect x="230.72" y="85.70" width="4.90" height="7.50" fill="#1f78b4" />
<rect x="236.94" y="85.70" width="4.90" height="7.50" fill="#fb9a99" />
<rect x="243.15" y="85.70" width="4.90" height="7.50" fill="#a6cee3" />
<rect x="249.36" y="85.70" width="4.90" height="7.50" fill="#1f78b4" />
<rect x="255.56" y="85.70" width="4.90" height="7.50" fill="#1f78b4" />
<rect x="261.77" y="85.70" width="4.90" height="7.50" fill="#1f78b4" />
<rect x="267.98" y="85.70" width="4.90" height="7.50" fill="#33a02c" />
<rect x="274.19" y="85.70" width="4.90" height="7.50" fill="#33a02c" />
<rect x="280.40" y="85.70" width="4.90" height="7.50" fill="#1f78b4" />
<rect x="286.61" y="85.70" width="4.90" height="7.50" fill="#1f78b4" />
<rect x="292.82" y="85.70" width="4.90" height="7.50" fill="#1f78b4" />
<rect x="299.03" y="85.70" width="4.90" height="7.50" fill="#1f78b4" />
<rect x="305.24" y="85.70" width="4.90" height="7.50" fill="#33a02c" />
<rect x="311.45" y="85.70" width="4.90" height="7.50" fill="#1f78b4" />
<rect x="317.66" y="85.70" width="4.90" height="7.50" fill="#ff7f00" />
<rect x="323.87" y="85.70" width="4.90" height="7.50" fill="#1f78b4" />
<rect x="330.08" y="85.70" width="4.90" height="7.50" fill="#33a02c" />
<rect x="336.29" y="85.70" width="4.90" height="7.50" fill="#1f78b4" />
<rect x="342.50" y="85.70" width="4.90" height="7.50" fill="#a6cee3" />
<rect x="348.71" y="85.70" width="4.90" height="7.50" fill="#1f78b4" />
<rect x="354.92" y="85.70" width="4.90" height="7.50" fill="#1f78b4" />
<rect x="361.13" y="85.70" width="4.90" height="7.50" fill="#33a02c" />
<rect x="367.34" y="85.70" width="4.90" height="7.50" fill="#1f78b4" />
<rect x="373.55" y="85.70" width="4.90" height="7.50" fill="#1f78b4" />
<rect x="379.76" y="85.70" width="4.90" height="7.50" fill="#ff7f00" />
<rect x="385.97" y="85.70" width="4.90" height="7.50" fill="#1f78b4" />
<rect x="392.18" y="85.70" width="4.90" height="7.50" fill="#33a02c" />
<rect x="398.39" y="85.70" width="4.90" height="7.50" fill="#a6cee3" />
<rect x="404.60" y="85.70" width="4.90" height="7.50" fill="#1f78b4" />
<rect x="410.81" y="85.70" width="4.90" height="7.50" fill="#1f78b4" />
<rect x="417.02" y="85.70" width="4.90" height="7.50" fill="#e31a1c" />
<rect x="423.23" y="85.70" width="4.90" height="7.50" fill="#1f78b4" />
<rect x="429.44" y="85.70" width="4.90" height="7.50" fill="#1f78b4" />
<text transform="translate(59.60,92.15) scale(0.1)" font-size="82.0" text-anchor="end" font-weight="normal" font-style="italic" >TP53</text>
<text transform="translate(536.20,92.45) scale(0.1)" font-size="82.0" text-anchor="start" font-weight="normal" font-style="normal" >79%</text>
<use href="#st" x="18.30" y="89.60"/>
<use href="#st" x="24.50" y="89.60"/>
<rect x="555.30" y="86.85" width="2.00" height="5.20" fill="#a6cee3" />
<rect x="557.29" y="86.85" width="26.60" height="5.20" fill="#1f78b4" />
<rect x="583.89" y="86.85" width="5.99" height="5.20" fill="#33a02c" />
<rect x="589.88" y="86.85" width="0.67" height="5.20" fill="#fb9a99" />
<rect x="590.54" y="86.85" width="0.67" height="5.20" fill="#e31a1c" />
<rect x="591.21" y="86.85" width="1.33" height="5.20" fill="#fdbf6f" />
<rect x="592.54" y="86.85" width="2.00" height="5.20" fill="#ff7f00" />
<rect x="594.53" y="86.85" width="0.67" height="5.20" fill="#cab2d6" />
<rect x="63.05" y="94.57" width="4.90" height="7.50" fill="#e31a1c" />
<rect x="69.27" y="94.57" width="4.90" height="7.50" fill="#33a02c" />
<rect x="75.47" y="94.57" width="4.90" height="7.50" fill="#33a02c" />
<rect x="81.69" y="94.57" width="4.90" height="7.50" fill="#a6cee3" />
<rect x="87.89" y="94.57" width="4.90" height="7.50" fill="#33a02c" />
<rect x="94.11" y="94.57" width="4.90" height="7.50" fill="#33a02c" />
<rect x="100.31" y="94.57" width="4.90" height="7.50" fill="#33a02c" />
<rect x="106.53" y="94.57" width="4.90" height="7.50" fill="#e31a1c" />
<rect x="112.73" y="94.57" width="4.90" height="7.50" fill="#e31a1c" />
<rect x="118.94" y="94.57" width="4.90" height="7.50" fill="#fdbf6f" />
<rect x="125.16" y="94.57" width="4.90" height="7.50" fill="#e31a1c" />
<rect x="131.37" y="94.57" width="4.90" height="7.50" fill="#33a02c" />
<rect x="137.57" y="94.57" width="4.90" height="7.50" fill="#e31a1c" />
<rect x="143.78" y="94.57" width="4.90" height="7.50" fill="#33a02c" />
<rect x="150.00" y="94.57" width="4.90" height="7.50" fill="#33a02c" />
<rect x="156.21" y="94.57" width="4.90" height="7.50" fill="#e31a1c" />
<rect x="162.41" y="94.57" width="4.90" height="7.50" fill="#33a02c" />
<rect x="168.62" y="94.57" width="4.90" height="7.50" fill="#e31a1c" />
<rect x="174.84" y="94.57" width="4.90" height="7.50" fill="#fdbf6f" />
<rect x="181.04" y="94.57" width="4.90" height="7.50" fill="#33a02c" />
<rect x="187.25" y="94.57" width="4.90" height="7.50" fill="#e31a1c" />
<rect x="193.47" y="94.57" width="4.90" height="7.50" fill="#a6cee3" />
<rect x="199.68" y="94.57" width="4.90" height="7.50" fill="#e31a1c" />
<rect x="205.89" y="94.57" width="4.90" height="7.50" fill="#33a02c" />
<rect x="212.09" y="94.57" width="4.90" height="7.50" fill="#e31a1c" />
<rect x="218.31" y="94.57" width="4.90" height="7.50" fill="#33a02c" />
<rect x="224.52" y="94.57" width="4.90" height="7.50" fill="#33a02c" />
<rect x="230.72" y="94.57" width="4.90" height="7.50" fill="#a6cee3" />
<rect x="236.94" y="94.57" width="4.90" height="7.50" fill="#33a02c" />
<rect x="243.15" y="94.57" width="4.90" height="7.50" fill="#fdbf6f" />
<rect x="249.36" y="94.57" width="4.90" height="7.50" fill="#33a02c" />
<rect x="255.56" y="94.57" width="4.90" height="7.50" fill="#a6cee3" />
<rect x="261.77" y="94.57" width="4.90" height="7.50" fill="#fdbf6f" />
<rect x="267.98" y="94.57" width="4.90" height="7.50" fill="#e31a1c" />
<rect x="274.19" y="94.57" width="4.90" height="7.50" fill="#33a02c" />
<rect x="280.40" y="94.57" width="4.90" height="7.50" fill="#e31a1c" />
<rect x="286.61" y="94.57" width="4.90" height="7.50" fill="#33a02c" />
<rect x="292.82" y="94.57" width="4.90" height="7.50" fill="#e31a1c" />
<rect x="299.03" y="94.57" width="4.90" height="7.50" fill="#33a02c" />
<rect x="305.24" y="94.57" width="4.90" height="7.50" fill="#33a02c" />
<rect x="311.45" y="94.57" width="4.90" height="7.50" fill="#e31a1c" />
<rect x="317.66" y="94.57" width="4.90" height="7.50" fill="#e31a1c" />
<rect x="323.87" y="94.57" width="4.90" height="7.50" fill="#33a02c" />
<rect x="330.08" y="94.57" width="4.90" height="7.50" fill="#33a02c" />
<rect x="336.29" y="94.57" width="4.90" height="7.50" fill="#33a02c" />
<rect x="342.50" y="94.57" width="4.90" height="7.50" fill="#33a02c" />
<rect x="348.71" y="94.57" width="4.90" height="7.50" fill="#fdbf6f" />
<rect x="435.65" y="94.57" width="4.90" height="7.50" fill="#1f78b4" />
<rect x="441.86" y="94.57" width="4.90" height="7.50" fill="#33a02c" />
<rect x="448.07" y="94.57" width="4.90" height="7.50" fill="#fdbf6f" />
<rect x="454.28" y="94.57" width="4.90" height="7.50" fill="#e31a1c" />
<rect x="460.49" y="94.57" width="4.90" height="7.50" fill="#33a02c" />
<rect x="466.70" y="94.57" width="4.90" height="7.50" fill="#33a02c" />
<rect x="472.91" y="94.57" width="4.90" height="7.50" fill="#33a02c" />
<rect x="479.12" y="94.57" width="4.90" height="7.50" fill="#fdbf6f" />
<rect x="485.33" y="94.57" width="4.90" height="7.50" fill="#33a02c" />
<rect x="491.54" y="94.57" width="4.90" height="7.50" fill="#fdbf6f" />
<rect x="497.75" y="94.57" width="4.90" height="7.50" fill="#a6cee3" />
<text transform="translate(59.60,101.02) scale(0.1)" font-size="82.0" text-anchor="end" font-weight="normal" font-style="italic" >APC</text>
<text transform="translate(536.20,101.32) scale(0.1)" font-size="82.0" text-anchor="start" font-weight="normal" font-style="normal" >76%</text>
<rect x="555.30" y="95.72" width="3.33" height="5.20" fill="#a6cee3" />
<rect x="558.62" y="95.72" width="0.67" height="5.20" fill="#1f78b4" />
<rect x="559.29" y="95.72" width="18.62" height="5.20" fill="#33a02c" />
<rect x="577.91" y="95.72" width="10.64" height="5.20" fill="#e31a1c" />
<rect x="588.55" y="95.72" width="5.32" height="5.20" fill="#fdbf6f" />
<rect x="63.05" y="103.44" width="4.90" height="7.50" fill="#1f78b4" />
<rect x="69.27" y="103.44" width="4.90" height="7.50" fill="#1f78b4" />
<rect x="75.47" y="103.44" width="4.90" height="7.50" fill="#1f78b4" />
<rect x="81.69" y="103.44" width="4.90" height="7.50" fill="#1f78b4" />
<rect x="87.89" y="103.44" width="4.90" height="7.50" fill="#1f78b4" />
<rect x="94.11" y="103.44" width="4.90" height="7.50" fill="#1f78b4" />
<rect x="100.31" y="103.44" width="4.90" height="7.50" fill="#1f78b4" />
<rect x="106.53" y="103.44" width="4.90" height="7.50" fill="#1f78b4" />
<rect x="112.73" y="103.44" width="4.90" height="7.50" fill="#1f78b4" />
<rect x="118.94" y="103.44" width="4.90" height="7.50" fill="#1f78b4" />
<rect x="125.16" y="103.44" width="4.90" height="7.50" fill="#1f78b4" />
<rect x="131.37" y="103.44" width="4.90" height="7.50" fill="#1f78b4" />
<rect x="137.57" y="103.44" width="4.90" height="7.50" fill="#1f78b4" />
<rect x="143.78" y="103.44" width="4.90" height="7.50" fill="#1f78b4" />
<rect x="150.00" y="103.44" width="4.90" height="7.50" fill="#1f78b4" />
<rect x="156.21" y="103.44" width="4.90" height="7.50" fill="#1f78b4" />
<rect x="162.41" y="103.44" width="4.90" height="7.50" fill="#1f78b4" />
<rect x="168.62" y="103.44" width="4.90" height="7.50" fill="#1f78b4" />
<rect x="174.84" y="103.44" width="4.90" height="7.50" fill="#1f78b4" />
<rect x="181.04" y="103.44" width="4.90" height="7.50" fill="#1f78b4" />
<rect x="187.25" y="103.44" width="4.90" height="7.50" fill="#1f78b4" />
<rect x="193.47" y="103.44" width="4.90" height="7.50" fill="#1f78b4" />
<rect x="199.68" y="103.44" width="4.90" height="7.50" fill="#1f78b4" />
<rect x="205.89" y="103.44" width="4.90" height="7.50" fill="#1f78b4" />
<rect x="212.09" y="103.44" width="4.90" height="7.50" fill="#1f78b4" />
<rect x="218.31" y="103.44" width="4.90" height="7.50" fill="#1f78b4" />
<rect x="224.52" y="103.44" width="4.90" height="7.50" fill="#1f78b4" />
<rect x="354.92" y="103.44" width="4.90" height="7.50" fill="#1f78b4" />
<rect x="361.13" y="103.44" width="4.90" height="7.50" fill="#1f78b4" />
<rect x="367.34" y="103.44" width="4.90" height="7.50" fill="#1f78b4" />
<rect x="373.55" y="103.44" width="4.90" height="7.50" fill="#1f78b4" />
<rect x="435.65" y="103.44" width="4.90" height="7.50" fill="#1f78b4" />
<rect x="441.86" y="103.44" width="4.90" height="7.50" fill="#1f78b4" />
<rect x="448.07" y="103.44" width="4.90" height="7.50" fill="#1f78b4" />
<rect x="454.28" y="103.44" width="4.90" height="7.50" fill="#33a02c" />
<rect x="460.49" y="103.44" width="4.90" height="7.50" fill="#1f78b4" />
<rect x="466.70" y="103.44" width="4.90" height="7.50" fill="#1f78b4" />
<rect x="472.91" y="103.44" width="4.90" height="7.50" fill="#1f78b4" />
<rect x="479.12" y="103.44" width="4.90" height="7.50" fill="#1f78b4" />
<rect x="503.96" y="103.44" width="4.90" height="7.50" fill="#1f78b4" />
<text transform="translate(59.60,109.89) scale(0.1)" font-size="82.0" text-anchor="end" font-weight="normal" font-style="italic" >KRAS</text>
<text transform="translate(536.20,110.19) scale(0.1)" font-size="82.0" text-anchor="start" font-weight="normal" font-style="normal" >53%</text>
<rect x="555.30" y="104.59" width="25.94" height="5.20" fill="#1f78b4" />
<rect x="581.23" y="104.59" width="0.67" height="5.20" fill="#33a02c" />
<rect x="63.05" y="112.31" width="4.90" height="7.50" fill="#1f78b4" />
<rect x="69.27" y="112.31" width="4.90" height="7.50" fill="#1f78b4" />
<rect x="75.47" y="112.31" width="4.90" height="7.50" fill="#1f78b4" />
<rect x="81.69" y="112.31" width="4.90" height="7.50" fill="#1f78b4" />
<rect x="87.89" y="112.31" width="4.90" height="7.50" fill="#1f78b4" />
<rect x="94.11" y="112.31" width="4.90" height="7.50" fill="#1f78b4" />
<rect x="100.31" y="112.31" width="4.90" height="7.50" fill="#1f78b4" />
<rect x="106.53" y="112.31" width="4.90" height="7.50" fill="#1f78b4" />
<rect x="112.73" y="112.31" width="4.90" height="7.50" fill="#1f78b4" />
<rect x="230.72" y="112.31" width="4.90" height="7.50" fill="#1f78b4" />
<rect x="236.94" y="112.31" width="4.90" height="7.50" fill="#1f78b4" />
<rect x="243.15" y="112.31" width="4.90" height="7.50" fill="#1f78b4" />
<rect x="249.36" y="112.31" width="4.90" height="7.50" fill="#1f78b4" />
<rect x="379.76" y="112.31" width="4.90" height="7.50" fill="#1f78b4" />
<rect x="385.97" y="112.31" width="4.90" height="7.50" fill="#1f78b4" />
<rect x="435.65" y="112.31" width="4.90" height="7.50" fill="#1f78b4" />
<rect x="441.86" y="112.31" width="4.90" height="7.50" fill="#1f78b4" />
<text transform="translate(59.60,118.76) scale(0.1)" font-size="82.0" text-anchor="end" font-weight="normal" font-style="italic" >PIK3CA</text>
<text transform="translate(536.20,119.06) scale(0.1)" font-size="82.0" text-anchor="start" font-weight="normal" font-style="normal" >22%</text>
<rect x="555.30" y="113.46" width="11.30" height="5.20" fill="#1f78b4" />
<rect x="63.05" y="121.18" width="4.90" height="7.50" fill="#1f78b4" />
<rect x="69.27" y="121.18" width="4.90" height="7.50" fill="#1f78b4" />
<rect x="118.94" y="121.18" width="4.90" height="7.50" fill="#ff7f00" />
<rect x="125.16" y="121.18" width="4.90" height="7.50" fill="#1f78b4" />
<rect x="255.56" y="121.18" width="4.90" height="7.50" fill="#1f78b4" />
<rect x="448.07" y="121.18" width="4.90" height="7.50" fill="#fdbf6f" />
<rect x="485.33" y="121.18" width="4.90" height="7.50" fill="#fb9a99" />
<text transform="translate(59.60,127.63) scale(0.1)" font-size="82.0" text-anchor="end" font-weight="normal" font-style="italic" >SMAD4</text>
<text transform="translate(536.20,127.93) scale(0.1)" font-size="82.0" text-anchor="start" font-weight="normal" font-style="normal" >9%</text>
<rect x="555.30" y="122.33" width="2.66" height="5.20" fill="#1f78b4" />
<rect x="557.96" y="122.33" width="0.67" height="5.20" fill="#fb9a99" />
<rect x="558.62" y="122.33" width="0.67" height="5.20" fill="#fdbf6f" />
<rect x="559.29" y="122.33" width="0.67" height="5.20" fill="#ff7f00" />
<rect x="118.94" y="130.05" width="4.90" height="7.50" fill="#1f78b4" />
<rect x="261.77" y="130.05" width="4.90" height="7.50" fill="#1f78b4" />
<rect x="454.28" y="130.05" width="4.90" height="7.50" fill="#1f78b4" />
<rect x="485.33" y="130.05" width="4.90" height="7.50" fill="#1f78b4" />
<text transform="translate(59.60,136.50) scale(0.1)" font-size="82.0" text-anchor="end" font-weight="normal" font-style="italic" >NRAS</text>
<text transform="translate(536.20,136.80) scale(0.1)" font-size="82.0" text-anchor="start" font-weight="normal" font-style="normal" >5%</text>
<rect x="555.30" y="131.20" width="2.66" height="5.20" fill="#1f78b4" />
<rect x="230.72" y="138.92" width="4.90" height="7.50" fill="#1f78b4" />
<rect x="267.98" y="138.92" width="4.90" height="7.50" fill="#1f78b4" />
<rect x="392.18" y="138.92" width="4.90" height="7.50" fill="#1f78b4" />
<rect x="435.65" y="138.92" width="4.90" height="7.50" fill="#e31a1c" />
<text transform="translate(59.60,145.37) scale(0.1)" font-size="82.0" text-anchor="end" font-weight="normal" font-style="italic" >BRAF</text>
<text transform="translate(536.20,145.67) scale(0.1)" font-size="82.0" text-anchor="start" font-weight="normal" font-style="normal" >5%</text>
<use href="#st" x="18.30" y="142.82"/>
<rect x="555.30" y="140.07" width="2.00" height="5.20" fill="#1f78b4" />
<rect x="557.29" y="140.07" width="0.67" height="5.20" fill="#e31a1c" />
<rect x="354.92" y="147.79" width="4.90" height="7.50" fill="#ff7f00" />
<rect x="379.76" y="147.79" width="4.90" height="7.50" fill="#1f78b4" />
<rect x="454.28" y="147.79" width="4.90" height="7.50" fill="#e31a1c" />
<rect x="503.96" y="147.79" width="4.90" height="7.50" fill="#1f78b4" />
<text transform="translate(59.60,154.24) scale(0.1)" font-size="82.0" text-anchor="end" font-weight="normal" font-style="italic" >PTEN</text>
<text transform="translate(536.20,154.54) scale(0.1)" font-size="82.0" text-anchor="start" font-weight="normal" font-style="normal" >5%</text>
<rect x="555.30" y="148.94" width="1.33" height="5.20" fill="#1f78b4" />
<rect x="556.63" y="148.94" width="0.67" height="5.20" fill="#e31a1c" />
<rect x="557.29" y="148.94" width="0.67" height="5.20" fill="#ff7f00" />
<rect x="75.47" y="156.66" width="4.90" height="7.50" fill="#1f78b4" />
<rect x="460.49" y="156.66" width="4.90" height="7.50" fill="#1f78b4" />
<text transform="translate(59.60,163.11) scale(0.1)" font-size="82.0" text-anchor="end" font-weight="normal" font-style="italic" >TGFBR2</text>
<text transform="translate(536.20,163.41) scale(0.1)" font-size="82.0" text-anchor="start" font-weight="normal" font-style="normal" >3%</text>
<rect x="555.30" y="157.81" width="1.33" height="5.20" fill="#1f78b4" />
<rect x="63.05" y="165.53" width="4.90" height="7.50" fill="#cbd5e8" />
<rect x="69.27" y="165.53" width="4.90" height="7.50" fill="#cbd5e8" />
<rect x="75.47" y="165.53" width="4.90" height="7.50" fill="#cbd5e8" />
<rect x="81.69" y="165.53" width="4.90" height="7.50" fill="#cbd5e8" />
<rect x="87.89" y="165.53" width="4.90" height="7.50" fill="#cbd5e8" />
<rect x="94.11" y="165.53" width="4.90" height="7.50" fill="#cbd5e8" />
<rect x="100.31" y="165.53" width="4.90" height="7.50" fill="#cbd5e8" />
<rect x="106.53" y="165.53" width="4.90" height="7.50" fill="#f4cae4" />
<rect x="112.73" y="165.53" width="4.90" height="7.50" fill="#cbd5e8" />
<rect x="118.94" y="165.53" width="4.90" height="7.50" fill="#cbd5e8" />
<rect x="125.16" y="165.53" width="4.90" height="7.50" fill="#cbd5e8" />
<rect x="131.37" y="165.53" width="4.90" height="7.50" fill="#cbd5e8" />
<rect x="137.57" y="165.53" width="4.90" height="7.50" fill="#cbd5e8" />
<rect x="143.78" y="165.53" width="4.90" height="7.50" fill="#cbd5e8" />
<rect x="150.00" y="165.53" width="4.90" height="7.50" fill="#cbd5e8" />
<rect x="156.21" y="165.53" width="4.90" height="7.50" fill="#cbd5e8" />
<rect x="162.41" y="165.53" width="4.90" height="7.50" fill="#cbd5e8" />
<rect x="168.62" y="165.53" width="4.90" height="7.50" fill="#cbd5e8" />
<rect x="174.84" y="165.53" width="4.90" height="7.50" fill="#cbd5e8" />
<rect x="181.04" y="165.53" width="4.90" height="7.50" fill="#f4cae4" />
<rect x="187.25" y="165.53" width="4.90" height="7.50" fill="#cbd5e8" />
<rect x="193.47" y="165.53" width="4.90" height="7.50" fill="#cbd5e8" />
<rect x="199.68" y="165.53" width="4.90" height="7.50" fill="#cbd5e8" />
<rect x="205.89" y="165.53" width="4.90" height="7.50" fill="#cbd5e8" />
<rect x="212.09" y="165.53" width="4.90" height="7.50" fill="#f4cae4" />
<rect x="218.31" y="165.53" width="4.90" height="7.50" fill="#f4cae4" />
<rect x="224.52" y="165.53" width="4.90" height="7.50" fill="#cbd5e8" />
<rect x="230.72" y="165.53" width="4.90" height="7.50" fill="#cbd5e8" />
<rect x="236.94" y="165.53" width="4.90" height="7.50" fill="#cbd5e8" />
<rect x="243.15" y="165.53" width="4.90" height="7.50" fill="#f4cae4" />
<rect x="249.36" y="165.53" width="4.90" height="7.50" fill="#cbd5e8" />
<rect x="255.56" y="165.53" width="4.90" height="7.50" fill="#cbd5e8" />
<rect x="261.77" y="165.53" width="4.90" height="7.50" fill="#cbd5e8" />
<rect x="267.98" y="165.53" width="4.90" height="7.50" fill="#cbd5e8" />
<rect x="274.19" y="165.53" width="4.90" height="7.50" fill="#cbd5e8" />
<rect x="280.40" y="165.53" width="4.90" height="7.50" fill="#cbd5e8" />
<rect x="286.61" y="165.53" width="4.90" height="7.50" fill="#cbd5e8" />
<rect x="292.82" y="165.53" width="4.90" height="7.50" fill="#cbd5e8" />
<rect x="299.03" y="165.53" width="4.90" height="7.50" fill="#cbd5e8" />
<rect x="305.24" y="165.53" width="4.90" height="7.50" fill="#f4cae4" />
<rect x="311.45" y="165.53" width="4.90" height="7.50" fill="#cbd5e8" />
<rect x="317.66" y="165.53" width="4.90" height="7.50" fill="#cbd5e8" />
<rect x="323.87" y="165.53" width="4.90" height="7.50" fill="#cbd5e8" />
<rect x="330.08" y="165.53" width="4.90" height="7.50" fill="#cbd5e8" />
<rect x="336.29" y="165.53" width="4.90" height="7.50" fill="#cbd5e8" />
<rect x="342.50" y="165.53" width="4.90" height="7.50" fill="#b9b9b9" />
<rect x="348.71" y="165.53" width="4.90" height="7.50" fill="#cbd5e8" />
<rect x="354.92" y="165.53" width="4.90" height="7.50" fill="#cbd5e8" />
<rect x="361.13" y="165.53" width="4.90" height="7.50" fill="#cbd5e8" />
<rect x="367.34" y="165.53" width="4.90" height="7.50" fill="#f4cae4" />
<rect x="373.55" y="165.53" width="4.90" height="7.50" fill="#cbd5e8" />
<rect x="379.76" y="165.53" width="4.90" height="7.50" fill="#cbd5e8" />
<rect x="385.97" y="165.53" width="4.90" height="7.50" fill="#cbd5e8" />
<rect x="392.18" y="165.53" width="4.90" height="7.50" fill="#cbd5e8" />
<rect x="398.39" y="165.53" width="4.90" height="7.50" fill="#f4cae4" />
<rect x="404.60" y="165.53" width="4.90" height="7.50" fill="#cbd5e8" />
<rect x="410.81" y="165.53" width="4.90" height="7.50" fill="#cbd5e8" />
<rect x="417.02" y="165.53" width="4.90" height="7.50" fill="#cbd5e8" />
<rect x="423.23" y="165.53" width="4.90" height="7.50" fill="#cbd5e8" />
<rect x="429.44" y="165.53" width="4.90" height="7.50" fill="#cbd5e8" />
<rect x="435.65" y="165.53" width="4.90" height="7.50" fill="#cbd5e8" />
<rect x="441.86" y="165.53" width="4.90" height="7.50" fill="#cbd5e8" />
<rect x="448.07" y="165.53" width="4.90" height="7.50" fill="#cbd5e8" />
<rect x="454.28" y="165.53" width="4.90" height="7.50" fill="#cbd5e8" />
<rect x="460.49" y="165.53" width="4.90" height="7.50" fill="#cbd5e8" />
<rect x="466.70" y="165.53" width="4.90" height="7.50" fill="#cbd5e8" />
<rect x="472.91" y="165.53" width="4.90" height="7.50" fill="#cbd5e8" />
<rect x="479.12" y="165.53" width="4.90" height="7.50" fill="#cbd5e8" />
<rect x="485.33" y="165.53" width="4.90" height="7.50" fill="#f4cae4" />
<rect x="491.54" y="165.53" width="4.90" height="7.50" fill="#cbd5e8" />
<rect x="497.75" y="165.53" width="4.90" height="7.50" fill="#cbd5e8" />
<rect x="503.96" y="165.53" width="4.90" height="7.50" fill="#cbd5e8" />
<rect x="510.17" y="165.53" width="4.90" height="7.50" fill="#cbd5e8" />
<rect x="516.38" y="165.53" width="4.90" height="7.50" fill="#cbd5e8" />
<rect x="522.60" y="165.53" width="4.90" height="7.50" fill="#f4cae4" />
<rect x="528.80" y="165.53" width="4.90" height="7.50" fill="#cbd5e8" />
<text transform="translate(59.40,171.73) scale(0.1)" font-size="82.0" text-anchor="end" font-weight="normal" font-style="normal" >Micropapillary</text>
<rect x="537.45" y="165.43" width="50.06" height="7.90" fill="#cbd5e8" />
<rect x="588.41" y="165.43" width="6.94" height="7.90" fill="#f4cae4" />
<rect x="63.05" y="174.40" width="4.90" height="7.50" fill="#fb8072" />
<rect x="69.27" y="174.40" width="4.90" height="7.50" fill="#fb8072" />
<rect x="75.47" y="174.40" width="4.90" height="7.50" fill="#bebada" />
<rect x="81.69" y="174.40" width="4.90" height="7.50" fill="#fb8072" />
<rect x="87.89" y="174.40" width="4.90" height="7.50" fill="#fb8072" />
<rect x="94.11" y="174.40" width="4.90" height="7.50" fill="#ffffb3" />
<rect x="100.31" y="174.40" width="4.90" height="7.50" fill="#bebada" />
<rect x="106.53" y="174.40" width="4.90" height="7.50" fill="#ffffb3" />
<rect x="112.73" y="174.40" width="4.90" height="7.50" fill="#fb8072" />
<rect x="118.94" y="174.40" width="4.90" height="7.50" fill="#ffffb3" />
<rect x="125.16" y="174.40" width="4.90" height="7.50" fill="#bebada" />
<rect x="131.37" y="174.40" width="4.90" height="7.50" fill="#fb8072" />
<rect x="137.57" y="174.40" width="4.90" height="7.50" fill="#ffffb3" />
<rect x="143.78" y="174.40" width="4.90" height="7.50" fill="#8dd3c7" />
<rect x="150.00" y="174.40" width="4.90" height="7.50" fill="#8dd3c7" />
<rect x="156.21" y="174.40" width="4.90" height="7.50" fill="#fb8072" />
<rect x="162.41" y="174.40" width="4.90" height="7.50" fill="#bebada" />
<rect x="168.62" y="174.40" width="4.90" height="7.50" fill="#bebada" />
<rect x="174.84" y="174.40" width="4.90" height="7.50" fill="#fb8072" />
<rect x="181.04" y="174.40" width="4.90" height="7.50" fill="#bebada" />
<rect x="187.25" y="174.40" width="4.90" height="7.50" fill="#bebada" />
<rect x="193.47" y="174.40" width="4.90" height="7.50" fill="#ffffb3" />
<rect x="199.68" y="174.40" width="4.90" height="7.50" fill="#ffffb3" />
<rect x="205.89" y="174.40" width="4.90" height="7.50" fill="#fb8072" />
<rect x="212.09" y="174.40" width="4.90" height="7.50" fill="#bebada" />
<rect x="218.31" y="174.40" width="4.90" height="7.50" fill="#fb8072" />
<rect x="224.52" y="174.40" width="4.90" height="7.50" fill="#bebada" />
<rect x="230.72" y="174.40" width="4.90" height="7.50" fill="#ffffb3" />
<rect x="236.94" y="174.40" width="4.90" height="7.50" fill="#bebada" />
<rect x="243.15" y="174.40" width="4.90" height="7.50" fill="#bebada" />
<rect x="249.36" y="174.40" width="4.90" height="7.50" fill="#8dd3c7" />
<rect x="255.56" y="174.40" width="4.90" height="7.50" fill="#bebada" />
<rect x="261.77" y="174.40" width="4.90" height="7.50" fill="#bebada" />
<rect x="267.98" y="174.40" width="4.90" height="7.50" fill="#ffffb3" />
<rect x="274.19" y="174.40" width="4.90" height="7.50" fill="#bebada" />
<rect x="280.40" y="174.40" width="4.90" height="7.50" fill="#fb8072" />
<rect x="286.61" y="174.40" width="4.90" height="7.50" fill="#b9b9b9" />
<rect x="292.82" y="174.40" width="4.90" height="7.50" fill="#bebada" />
<rect x="299.03" y="174.40" width="4.90" height="7.50" fill="#bebada" />
<rect x="305.24" y="174.40" width="4.90" height="7.50" fill="#fb8072" />
<rect x="311.45" y="174.40" width="4.90" height="7.50" fill="#bebada" />
<rect x="317.66" y="174.40" width="4.90" height="7.50" fill="#8dd3c7" />
<rect x="323.87" y="174.40" width="4.90" height="7.50" fill="#bebada" />
<rect x="330.08" y="174.40" width="4.90" height="7.50" fill="#ffffb3" />
<rect x="336.29" y="174.40" width="4.90" height="7.50" fill="#fb8072" />
<rect x="342.50" y="174.40" width="4.90" height="7.50" fill="#ffffb3" />
<rect x="348.71" y="174.40" width="4.90" height="7.50" fill="#ffffb3" />
<rect x="354.92" y="174.40" width="4.90" height="7.50" fill="#fb8072" />
<rect x="361.13" y="174.40" width="4.90" height="7.50" fill="#ffffb3" />
<rect x="367.34" y="174.40" width="4.90" height="7.50" fill="#fb8072" />
<rect x="373.55" y="174.40" width="4.90" height="7.50" fill="#ffffb3" />
<rect x="379.76" y="174.40" width="4.90" height="7.50" fill="#bebada" />
<rect x="385.97" y="174.40" width="4.90" height="7.50" fill="#ffffb3" />
<rect x="392.18" y="174.40" width="4.90" height="7.50" fill="#ffffb3" />
<rect x="398.39" y="174.40" width="4.90" height="7.50" fill="#fb8072" />
<rect x="404.60" y="174.40" width="4.90" height="7.50" fill="#bebada" />
<rect x="410.81" y="174.40" width="4.90" height="7.50" fill="#fb8072" />
<rect x="417.02" y="174.40" width="4.90" height="7.50" fill="#ffffb3" />
<rect x="423.23" y="174.40" width="4.90" height="7.50" fill="#bebada" />
<rect x="429.44" y="174.40" width="4.90" height="7.50" fill="#bebada" />
<rect x="435.65" y="174.40" width="4.90" height="7.50" fill="#ffffb3" />
<rect x="441.86" y="174.40" width="4.90" height="7.50" fill="#ffffb3" />
<rect x="448.07" y="174.40" width="4.90" height="7.50" fill="#ffffb3" />
<rect x="454.28" y="174.40" width="4.90" height="7.50" fill="#8dd3c7" />
<rect x="460.49" y="174.40" width="4.90" height="7.50" fill="#bebada" />
<rect x="466.70" y="174.40" width="4.90" height="7.50" fill="#fb8072" />
<rect x="472.91" y="174.40" width="4.90" height="7.50" fill="#ffffb3" />
<rect x="479.12" y="174.40" width="4.90" height="7.50" fill="#ffffb3" />
<rect x="485.33" y="174.40" width="4.90" height="7.50" fill="#fb8072" />
<rect x="491.54" y="174.40" width="4.90" height="7.50" fill="#bebada" />
<rect x="497.75" y="174.40" width="4.90" height="7.50" fill="#bebada" />
<rect x="503.96" y="174.40" width="4.90" height="7.50" fill="#ffffb3" />
<rect x="510.17" y="174.40" width="4.90" height="7.50" fill="#bebada" />
<rect x="516.38" y="174.40" width="4.90" height="7.50" fill="#ffffb3" />
<rect x="522.60" y="174.40" width="4.90" height="7.50" fill="#8dd3c7" />
<rect x="528.80" y="174.40" width="4.90" height="7.50" fill="#ffffb3" />
<text transform="translate(59.40,180.60) scale(0.1)" font-size="82.0" text-anchor="end" font-weight="normal" font-style="normal" >Stage</text>
<rect x="537.45" y="174.30" width="3.80" height="7.90" fill="#8dd3c7" />
<rect x="542.15" y="174.30" width="17.92" height="7.90" fill="#ffffb3" />
<rect x="560.97" y="174.30" width="19.48" height="7.90" fill="#bebada" />
<rect x="581.35" y="174.30" width="14.00" height="7.90" fill="#fb8072" />
<rect x="63.05" y="183.27" width="4.90" height="7.50" fill="#fbb4ae" />
<rect x="69.27" y="183.27" width="4.90" height="7.50" fill="#fbb4ae" />
<rect x="75.47" y="183.27" width="4.90" height="7.50" fill="#fbb4ae" />
<rect x="81.69" y="183.27" width="4.90" height="7.50" fill="#fbb4ae" />
<rect x="87.89" y="183.27" width="4.90" height="7.50" fill="#b3cde3" />
<rect x="94.11" y="183.27" width="4.90" height="7.50" fill="#b3cde3" />
<rect x="100.31" y="183.27" width="4.90" height="7.50" fill="#fbb4ae" />
<rect x="106.53" y="183.27" width="4.90" height="7.50" fill="#b9b9b9" />
<rect x="112.73" y="183.27" width="4.90" height="7.50" fill="#fbb4ae" />
<rect x="118.94" y="183.27" width="4.90" height="7.50" fill="#fbb4ae" />
<rect x="125.16" y="183.27" width="4.90" height="7.50" fill="#decbe4" />
<rect x="131.37" y="183.27" width="4.90" height="7.50" fill="#b3cde3" />
<rect x="137.57" y="183.27" width="4.90" height="7.50" fill="#b3cde3" />
<rect x="143.78" y="183.27" width="4.90" height="7.50" fill="#b3cde3" />
<rect x="150.00" y="183.27" width="4.90" height="7.50" fill="#b3cde3" />
<rect x="156.21" y="183.27" width="4.90" height="7.50" fill="#fbb4ae" />
<rect x="162.41" y="183.27" width="4.90" height="7.50" fill="#b3cde3" />
<rect x="168.62" y="183.27" width="4.90" height="7.50" fill="#fbb4ae" />
<rect x="174.84" y="183.27" width="4.90" height="7.50" fill="#fbb4ae" />
<rect x="181.04" y="183.27" width="4.90" height="7.50" fill="#fbb4ae" />
<rect x="187.25" y="183.27" width="4.90" height="7.50" fill="#decbe4" />
<rect x="193.47" y="183.27" width="4.90" height="7.50" fill="#decbe4" />
<rect x="199.68" y="183.27" width="4.90" height="7.50" fill="#decbe4" />
<rect x="205.89" y="183.27" width="4.90" height="7.50" fill="#decbe4" />
<rect x="212.09" y="183.27" width="4.90" height="7.50" fill="#decbe4" />
<rect x="218.31" y="183.27" width="4.90" height="7.50" fill="#decbe4" />
<rect x="224.52" y="183.27" width="4.90" height="7.50" fill="#b3cde3" />
<rect x="230.72" y="183.27" width="4.90" height="7.50" fill="#b3cde3" />
<rect x="236.94" y="183.27" width="4.90" height="7.50" fill="#fbb4ae" />
<rect x="243.15" y="183.27" width="4.90" height="7.50" fill="#fbb4ae" />
<rect x="249.36" y="183.27" width="4.90" height="7.50" fill="#decbe4" />
<rect x="255.56" y="183.27" width="4.90" height="7.50" fill="#decbe4" />
<rect x="261.77" y="183.27" width="4.90" height="7.50" fill="#fbb4ae" />
<rect x="267.98" y="183.27" width="4.90" height="7.50" fill="#fbb4ae" />
<rect x="274.19" y="183.27" width="4.90" height="7.50" fill="#b3cde3" />
<rect x="280.40" y="183.27" width="4.90" height="7.50" fill="#b3cde3" />
<rect x="286.61" y="183.27" width="4.90" height="7.50" fill="#fbb4ae" />
<rect x="292.82" y="183.27" width="4.90" height="7.50" fill="#b3cde3" />
<rect x="299.03" y="183.27" width="4.90" height="7.50" fill="#b9b9b9" />
<rect x="305.24" y="183.27" width="4.90" height="7.50" fill="#b3cde3" />
<rect x="311.45" y="183.27" width="4.90" height="7.50" fill="#b3cde3" />
<rect x="317.66" y="183.27" width="4.90" height="7.50" fill="#decbe4" />
<rect x="323.87" y="183.27" width="4.90" height="7.50" fill="#decbe4" />
<rect x="330.08" y="183.27" width="4.90" height="7.50" fill="#decbe4" />
<rect x="336.29" y="183.27" width="4.90" height="7.50" fill="#decbe4" />
<rect x="342.50" y="183.27" width="4.90" height="7.50" fill="#decbe4" />
<rect x="348.71" y="183.27" width="4.90" height="7.50" fill="#decbe4" />
<rect x="354.92" y="183.27" width="4.90" height="7.50" fill="#decbe4" />
<rect x="361.13" y="183.27" width="4.90" height="7.50" fill="#b3cde3" />
<rect x="367.34" y="183.27" width="4.90" height="7.50" fill="#b3cde3" />
<rect x="373.55" y="183.27" width="4.90" height="7.50" fill="#decbe4" />
<rect x="379.76" y="183.27" width="4.90" height="7.50" fill="#fbb4ae" />
<rect x="385.97" y="183.27" width="4.90" height="7.50" fill="#b3cde3" />
<rect x="392.18" y="183.27" width="4.90" height="7.50" fill="#decbe4" />
<rect x="398.39" y="183.27" width="4.90" height="7.50" fill="#b3cde3" />
<rect x="404.60" y="183.27" width="4.90" height="7.50" fill="#fbb4ae" />
<rect x="410.81" y="183.27" width="4.90" height="7.50" fill="#fbb4ae" />
<rect x="417.02" y="183.27" width="4.90" height="7.50" fill="#b3cde3" />
<rect x="423.23" y="183.27" width="4.90" height="7.50" fill="#fbb4ae" />
<rect x="429.44" y="183.27" width="4.90" height="7.50" fill="#decbe4" />
<rect x="435.65" y="183.27" width="4.90" height="7.50" fill="#fbb4ae" />
<rect x="441.86" y="183.27" width="4.90" height="7.50" fill="#fbb4ae" />
<rect x="448.07" y="183.27" width="4.90" height="7.50" fill="#fbb4ae" />
<rect x="454.28" y="183.27" width="4.90" height="7.50" fill="#decbe4" />
<rect x="460.49" y="183.27" width="4.90" height="7.50" fill="#fbb4ae" />
<rect x="466.70" y="183.27" width="4.90" height="7.50" fill="#fbb4ae" />
<rect x="472.91" y="183.27" width="4.90" height="7.50" fill="#fbb4ae" />
<rect x="479.12" y="183.27" width="4.90" height="7.50" fill="#fbb4ae" />
<rect x="485.33" y="183.27" width="4.90" height="7.50" fill="#b3cde3" />
<rect x="491.54" y="183.27" width="4.90" height="7.50" fill="#decbe4" />
<rect x="497.75" y="183.27" width="4.90" height="7.50" fill="#decbe4" />
<rect x="503.96" y="183.27" width="4.90" height="7.50" fill="#fbb4ae" />
<rect x="510.17" y="183.27" width="4.90" height="7.50" fill="#b3cde3" />
<rect x="516.38" y="183.27" width="4.90" height="7.50" fill="#b3cde3" />
<rect x="522.60" y="183.27" width="4.90" height="7.50" fill="#b3cde3" />
<rect x="528.80" y="183.27" width="4.90" height="7.50" fill="#decbe4" />
<text transform="translate(59.40,189.47) scale(0.1)" font-size="82.0" text-anchor="end" font-weight="normal" font-style="normal" >Site</text>
<rect x="537.45" y="183.17" width="17.38" height="7.90" fill="#b3cde3" />
<rect x="555.73" y="183.17" width="21.35" height="7.90" fill="#fbb4ae" />
<rect x="577.97" y="183.17" width="17.38" height="7.90" fill="#decbe4" />
<rect x="63.05" y="192.14" width="4.90" height="7.50" fill="#f4cae4" />
<rect x="69.27" y="192.14" width="4.90" height="7.50" fill="#e6f5c9" />
<rect x="75.47" y="192.14" width="4.90" height="7.50" fill="#f4cae4" />
<rect x="81.69" y="192.14" width="4.90" height="7.50" fill="#b9b9b9" />
<rect x="87.89" y="192.14" width="4.90" height="7.50" fill="#e6f5c9" />
<rect x="94.11" y="192.14" width="4.90" height="7.50" fill="#b3e2cd" />
<rect x="100.31" y="192.14" width="4.90" height="7.50" fill="#b3e2cd" />
<rect x="106.53" y="192.14" width="4.90" height="7.50" fill="#f4cae4" />
<rect x="112.73" y="192.14" width="4.90" height="7.50" fill="#e6f5c9" />
<rect x="118.94" y="192.14" width="4.90" height="7.50" fill="#b9b9b9" />
<rect x="125.16" y="192.14" width="4.90" height="7.50" fill="#e6f5c9" />
<rect x="131.37" y="192.14" width="4.90" height="7.50" fill="#e6f5c9" />
<rect x="137.57" y="192.14" width="4.90" height="7.50" fill="#b3e2cd" />
<rect x="143.78" y="192.14" width="4.90" height="7.50" fill="#b3e2cd" />
<rect x="150.00" y="192.14" width="4.90" height="7.50" fill="#e6f5c9" />
<rect x="156.21" y="192.14" width="4.90" height="7.50" fill="#e6f5c9" />
<rect x="162.41" y="192.14" width="4.90" height="7.50" fill="#e6f5c9" />
<rect x="168.62" y="192.14" width="4.90" height="7.50" fill="#b9b9b9" />
<rect x="174.84" y="192.14" width="4.90" height="7.50" fill="#b9b9b9" />
<rect x="181.04" y="192.14" width="4.90" height="7.50" fill="#f4cae4" />
<rect x="187.25" y="192.14" width="4.90" height="7.50" fill="#b3e2cd" />
<rect x="193.47" y="192.14" width="4.90" height="7.50" fill="#b3e2cd" />
<rect x="199.68" y="192.14" width="4.90" height="7.50" fill="#b9b9b9" />
<rect x="205.89" y="192.14" width="4.90" height="7.50" fill="#e6f5c9" />
<rect x="212.09" y="192.14" width="4.90" height="7.50" fill="#e6f5c9" />
<rect x="218.31" y="192.14" width="4.90" height="7.50" fill="#e6f5c9" />
<rect x="224.52" y="192.14" width="4.90" height="7.50" fill="#b3e2cd" />
<rect x="230.72" y="192.14" width="4.90" height="7.50" fill="#f4cae4" />
<rect x="236.94" y="192.14" width="4.90" height="7.50" fill="#b3e2cd" />
<rect x="243.15" y="192.14" width="4.90" height="7.50" fill="#e6f5c9" />
<rect x="249.36" y="192.14" width="4.90" height="7.50" fill="#e6f5c9" />
<rect x="255.56" y="192.14" width="4.90" height="7.50" fill="#b3e2cd" />
<rect x="261.77" y="192.14" width="4.90" height="7.50" fill="#e6f5c9" />
<rect x="267.98" y="192.14" width="4.90" height="7.50" fill="#e6f5c9" />
<rect x="274.19" y="192.14" width="4.90" height="7.50" fill="#e6f5c9" />
<rect x="280.40" y="192.14" width="4.90" height="7.50" fill="#e6f5c9" />
<rect x="286.61" y="192.14" width="4.90" height="7.50" fill="#b3e2cd" />
<rect x="292.82" y="192.14" width="4.90" height="7.50" fill="#e6f5c9" />
<rect x="299.03" y="192.14" width="4.90" height="7.50" fill="#b3e2cd" />
<rect x="305.24" y="192.14" width="4.90" height="7.50" fill="#e6f5c9" />
<rect x="311.45" y="192.14" width="4.90" height="7.50" fill="#b3e2cd" />
<rect x="317.66" y="192.14" width="4.90" height="7.50" fill="#e6f5c9" />
<rect x="323.87" y="192.14" width="4.90" height="7.50" fill="#e6f5c9" />
<rect x="330.08" y="192.14" width="4.90" height="7.50" fill="#e6f5c9" />
<rect x="336.29" y="192.14" width="4.90" height="7.50" fill="#e6f5c9" />
<rect x="342.50" y="192.14" width="4.90" height="7.50" fill="#e6f5c9" />
<rect x="348.71" y="192.14" width="4.90" height="7.50" fill="#e6f5c9" />
<rect x="354.92" y="192.14" width="4.90" height="7.50" fill="#e6f5c9" />
<rect x="361.13" y="192.14" width="4.90" height="7.50" fill="#e6f5c9" />
<rect x="367.34" y="192.14" width="4.90" height="7.50" fill="#e6f5c9" />
<rect x="373.55" y="192.14" width="4.90" height="7.50" fill="#e6f5c9" />
<rect x="379.76" y="192.14" width="4.90" height="7.50" fill="#b9b9b9" />
<rect x="385.97" y="192.14" width="4.90" height="7.50" fill="#b3e2cd" />
<rect x="392.18" y="192.14" width="4.90" height="7.50" fill="#e6f5c9" />
<rect x="398.39" y="192.14" width="4.90" height="7.50" fill="#e6f5c9" />
<rect x="404.60" y="192.14" width="4.90" height="7.50" fill="#e6f5c9" />
<rect x="410.81" y="192.14" width="4.90" height="7.50" fill="#e6f5c9" />
<rect x="417.02" y="192.14" width="4.90" height="7.50" fill="#e6f5c9" />
<rect x="423.23" y="192.14" width="4.90" height="7.50" fill="#e6f5c9" />
<rect x="429.44" y="192.14" width="4.90" height="7.50" fill="#e6f5c9" />
<rect x="435.65" y="192.14" width="4.90" height="7.50" fill="#f4cae4" />
<rect x="441.86" y="192.14" width="4.90" height="7.50" fill="#e6f5c9" />
<rect x="448.07" y="192.14" width="4.90" height="7.50" fill="#cbd5e8" />
<rect x="454.28" y="192.14" width="4.90" height="7.50" fill="#f4cae4" />
<rect x="460.49" y="192.14" width="4.90" height="7.50" fill="#f4cae4" />
<rect x="466.70" y="192.14" width="4.90" height="7.50" fill="#b9b9b9" />
<rect x="472.91" y="192.14" width="4.90" height="7.50" fill="#cbd5e8" />
<rect x="479.12" y="192.14" width="4.90" height="7.50" fill="#e6f5c9" />
<rect x="485.33" y="192.14" width="4.90" height="7.50" fill="#b9b9b9" />
<rect x="491.54" y="192.14" width="4.90" height="7.50" fill="#b3e2cd" />
<rect x="497.75" y="192.14" width="4.90" height="7.50" fill="#cbd5e8" />
<rect x="503.96" y="192.14" width="4.90" height="7.50" fill="#e6f5c9" />
<rect x="510.17" y="192.14" width="4.90" height="7.50" fill="#b3e2cd" />
<rect x="516.38" y="192.14" width="4.90" height="7.50" fill="#e6f5c9" />
<rect x="522.60" y="192.14" width="4.90" height="7.50" fill="#b3e2cd" />
<rect x="528.80" y="192.14" width="4.90" height="7.50" fill="#f4cae4" />
<text transform="translate(59.40,198.34) scale(0.1)" font-size="82.0" text-anchor="end" font-weight="normal" font-style="normal" >CMS</text>
<rect x="537.45" y="192.04" width="6.88" height="7.90" fill="#f4cae4" />
<rect x="545.23" y="192.04" width="12.94" height="7.90" fill="#b3e2cd" />
<rect x="559.07" y="192.04" width="1.69" height="7.90" fill="#cbd5e8" />
<rect x="561.66" y="192.04" width="33.69" height="7.90" fill="#e6f5c9" />
<use href="#st" x="18.30" y="195.74"/>
<use href="#st" x="24.50" y="195.74"/>
<line x1="537.00" y1="200.70" x2="596.00" y2="200.70" stroke="#000" stroke-width="0.7" />
<line x1="537.00" y1="200.70" x2="537.00" y2="202.40" stroke="#000" stroke-width="0.6" />
<text transform="translate(537.00,213.40) scale(0.1)" font-size="82.0" text-anchor="middle" font-weight="normal" font-style="normal" >0</text>
<line x1="566.50" y1="200.70" x2="566.50" y2="202.40" stroke="#000" stroke-width="0.6" />
<text transform="translate(566.50,213.40) scale(0.1)" font-size="82.0" text-anchor="middle" font-weight="normal" font-style="normal" >0.5</text>
<line x1="596.00" y1="200.70" x2="596.00" y2="202.40" stroke="#000" stroke-width="0.6" />
<text transform="translate(596.00,213.40) scale(0.1)" font-size="82.0" text-anchor="middle" font-weight="normal" font-style="normal" >1</text>
<line x1="555.00" y1="84.00" x2="596.40" y2="84.00" stroke="#000" stroke-width="0.7" />
<line x1="555.30" y1="84.00" x2="555.30" y2="82.40" stroke="#000" stroke-width="0.6" />
<text transform="translate(555.30,79.60) scale(0.1)" font-size="80.0" text-anchor="middle" font-weight="normal" font-style="normal" >0</text>
<line x1="568.60" y1="84.00" x2="568.60" y2="82.40" stroke="#000" stroke-width="0.6" />
<text transform="translate(568.60,79.60) scale(0.1)" font-size="80.0" text-anchor="middle" font-weight="normal" font-style="normal" >20</text>
<line x1="581.90" y1="84.00" x2="581.90" y2="82.40" stroke="#000" stroke-width="0.6" />
<text transform="translate(581.90,79.60) scale(0.1)" font-size="80.0" text-anchor="middle" font-weight="normal" font-style="normal" >40</text>
<line x1="595.20" y1="84.00" x2="595.20" y2="82.40" stroke="#000" stroke-width="0.6" />
<text transform="translate(595.20,79.60) scale(0.1)" font-size="80.0" text-anchor="middle" font-weight="normal" font-style="normal" >60</text>
<text transform="translate(538.80,21.50) scale(0.1)" font-size="82.0" text-anchor="start" font-weight="bold" font-style="normal" >CMScaller</text>
<text transform="translate(538.80,31.40) scale(0.1)" font-size="82.0" text-anchor="start" font-weight="bold" font-style="normal" >prediction</text>
<rect x="539.40" y="36.20" width="7.30" height="6.90" fill="#f4cae4" />
<text transform="translate(549.00,42.50) scale(0.1)" font-size="82.0" text-anchor="start" font-weight="normal" font-style="normal" >CMS1</text>
<rect x="539.40" y="44.47" width="7.30" height="6.90" fill="#b3e2cd" />
<text transform="translate(549.00,50.77) scale(0.1)" font-size="82.0" text-anchor="start" font-weight="normal" font-style="normal" >CMS2</text>
<rect x="539.40" y="52.74" width="7.30" height="6.90" fill="#cbd5e8" />
<text transform="translate(549.00,59.04) scale(0.1)" font-size="82.0" text-anchor="start" font-weight="normal" font-style="normal" >CMS3</text>
<rect x="539.40" y="61.01" width="7.30" height="6.90" fill="#e6f5c9" />
<text transform="translate(549.00,67.31) scale(0.1)" font-size="82.0" text-anchor="start" font-weight="normal" font-style="normal" >CMS4</text>
<text transform="translate(600.20,31.00) scale(0.1)" font-size="82.0" text-anchor="start" font-weight="bold" font-style="normal" >Location</text>
<rect x="601.00" y="36.20" width="7.30" height="6.90" fill="#fbb4ae" />
<text transform="translate(610.60,42.50) scale(0.1)" font-size="82.0" text-anchor="start" font-weight="normal" font-style="normal" >Proximal colon</text>
<rect x="601.00" y="44.47" width="7.30" height="6.90" fill="#b3cde3" />
<text transform="translate(610.60,50.77) scale(0.1)" font-size="82.0" text-anchor="start" font-weight="normal" font-style="normal" >Distal colon</text>
<rect x="601.00" y="52.74" width="7.30" height="6.90" fill="#decbe4" />
<text transform="translate(610.60,59.04) scale(0.1)" font-size="82.0" text-anchor="start" font-weight="normal" font-style="normal" >Rectum</text>
<text transform="translate(601.00,81.30) scale(0.1)" font-size="82.0" text-anchor="start" font-weight="bold" font-style="normal" >Alterations</text>
<rect x="601.00" y="86.30" width="7.30" height="6.90" fill="#a6cee3" />
<text transform="translate(610.60,92.60) scale(0.1)" font-size="82.0" text-anchor="start" font-weight="normal" font-style="normal" >Frameshift deletion</text>
<rect x="601.00" y="94.52" width="7.30" height="6.90" fill="#1f78b4" />
<text transform="translate(610.60,100.82) scale(0.1)" font-size="82.0" text-anchor="start" font-weight="normal" font-style="normal" >Missense mutation</text>
<rect x="601.00" y="102.74" width="7.30" height="6.90" fill="#33a02c" />
<text transform="translate(610.60,109.04) scale(0.1)" font-size="82.0" text-anchor="start" font-weight="normal" font-style="normal" >Nonsense mutation</text>
<rect x="601.00" y="110.96" width="7.30" height="6.90" fill="#fb9a99" />
<text transform="translate(610.60,117.26) scale(0.1)" font-size="82.0" text-anchor="start" font-weight="normal" font-style="normal" >In-frame Deletion</text>
<rect x="601.00" y="119.18" width="7.30" height="6.90" fill="#e31a1c" />
<text transform="translate(610.60,125.48) scale(0.1)" font-size="82.0" text-anchor="start" font-weight="normal" font-style="normal" >Multi-hit</text>
<rect x="601.00" y="127.40" width="7.30" height="6.90" fill="#fdbf6f" />
<text transform="translate(610.60,133.70) scale(0.1)" font-size="82.0" text-anchor="start" font-weight="normal" font-style="normal" >Frameshift insertion</text>
<rect x="601.00" y="135.62" width="7.30" height="6.90" fill="#ff7f00" />
<text transform="translate(610.60,141.92) scale(0.1)" font-size="82.0" text-anchor="start" font-weight="normal" font-style="normal" >Splice site mutation</text>
<rect x="601.00" y="143.84" width="7.30" height="6.90" fill="#cab2d6" />
<text transform="translate(610.60,150.14) scale(0.1)" font-size="82.0" text-anchor="start" font-weight="normal" font-style="normal" >In-frame insertion</text>
<text transform="translate(600.80,161.50) scale(0.1)" font-size="82.0" text-anchor="start" font-weight="bold" font-style="normal" >Stage</text>
<rect x="601.00" y="165.60" width="7.30" height="6.90" fill="#8dd3c7" />
<text transform="translate(609.90,171.90) scale(0.1)" font-size="82.0" text-anchor="start" font-weight="normal" font-style="normal" >1</text>
<rect x="601.00" y="173.90" width="7.30" height="6.90" fill="#ffffb3" />
<text transform="translate(609.90,180.20) scale(0.1)" font-size="82.0" text-anchor="start" font-weight="normal" font-style="normal" >2</text>
<rect x="601.00" y="182.20" width="7.30" height="6.90" fill="#bebada" />
<text transform="translate(609.90,188.50) scale(0.1)" font-size="82.0" text-anchor="start" font-weight="normal" font-style="normal" >3</text>
<rect x="601.00" y="190.50" width="7.30" height="6.90" fill="#fb8072" />
<text transform="translate(609.90,196.80) scale(0.1)" font-size="82.0" text-anchor="start" font-weight="normal" font-style="normal" >4</text>
<text transform="translate(628.90,161.50) scale(0.1)" font-size="82.0" text-anchor="start" font-weight="bold" font-style="normal" >Micropapillary</text>
<rect x="630.30" y="165.60" width="7.30" height="6.90" fill="#cbd5e8" />
<text transform="translate(639.00,171.90) scale(0.1)" font-size="82.0" text-anchor="start" font-weight="normal" font-style="normal" >No</text>
<rect x="630.30" y="175.10" width="7.30" height="6.90" fill="#f4cae4" />
<text transform="translate(640.40,181.40) scale(0.1)" font-size="82.0" text-anchor="start" font-weight="normal" font-style="normal" >Yes</text>
<rect x="630.30" y="192.70" width="7.30" height="6.90" fill="#b9b9b9" />
<text transform="translate(639.00,199.00) scale(0.1)" font-size="82.0" text-anchor="start" font-weight="normal" font-style="normal" >Missing</text>
<text transform="translate(-0.20,237.70) scale(0.1)" font-size="137.0" text-anchor="start" font-weight="bold" font-style="normal" >b</text>
<line x1="335.00" y1="236.90" x2="633.80" y2="236.90" stroke="#bebebe" stroke-width="1.45" stroke-dasharray="3.3 3.3"/>
<line x1="335.00" y1="246.19" x2="633.80" y2="246.19" stroke="#bebebe" stroke-width="1.45" stroke-dasharray="3.3 3.3"/>
<line x1="335.00" y1="255.49" x2="633.80" y2="255.49" stroke="#bebebe" stroke-width="1.45" stroke-dasharray="3.3 3.3"/>
<line x1="335.00" y1="264.79" x2="633.80" y2="264.79" stroke="#bebebe" stroke-width="1.45" stroke-dasharray="3.3 3.3"/>
<line x1="335.00" y1="274.08" x2="633.80" y2="274.08" stroke="#bebebe" stroke-width="1.45" stroke-dasharray="3.3 3.3"/>
<line x1="335.00" y1="283.38" x2="633.80" y2="283.38" stroke="#bebebe" stroke-width="1.45" stroke-dasharray="3.3 3.3"/>
<line x1="335.00" y1="292.67" x2="633.80" y2="292.67" stroke="#bebebe" stroke-width="1.45" stroke-dasharray="3.3 3.3"/>
<line x1="335.00" y1="301.97" x2="633.80" y2="301.97" stroke="#bebebe" stroke-width="1.45" stroke-dasharray="3.3 3.3"/>
<line x1="335.00" y1="311.26" x2="633.80" y2="311.26" stroke="#bebebe" stroke-width="1.45" stroke-dasharray="3.3 3.3"/>
<line x1="335.00" y1="320.56" x2="633.80" y2="320.56" stroke="#bebebe" stroke-width="1.45" stroke-dasharray="3.3 3.3"/>
<line x1="335.00" y1="329.85" x2="633.80" y2="329.85" stroke="#bebebe" stroke-width="1.45" stroke-dasharray="3.3 3.3"/>
<line x1="335.00" y1="339.14" x2="633.80" y2="339.14" stroke="#bebebe" stroke-width="1.45" stroke-dasharray="3.3 3.3"/>
<line x1="335.00" y1="348.44" x2="633.80" y2="348.44" stroke="#bebebe" stroke-width="1.45" stroke-dasharray="3.3 3.3"/>
<line x1="335.00" y1="357.74" x2="633.80" y2="357.74" stroke="#bebebe" stroke-width="1.45" stroke-dasharray="3.3 3.3"/>
<line x1="335.00" y1="367.03" x2="633.80" y2="367.03" stroke="#bebebe" stroke-width="1.45" stroke-dasharray="3.3 3.3"/>
<line x1="335.00" y1="376.33" x2="633.80" y2="376.33" stroke="#bebebe" stroke-width="1.45" stroke-dasharray="3.3 3.3"/>
<line x1="335.00" y1="385.62" x2="633.80" y2="385.62" stroke="#bebebe" stroke-width="1.45" stroke-dasharray="3.3 3.3"/>
<line x1="335.00" y1="394.91" x2="633.80" y2="394.91" stroke="#bebebe" stroke-width="1.45" stroke-dasharray="3.3 3.3"/>
<line x1="335.00" y1="404.21" x2="633.80" y2="404.21" stroke="#bebebe" stroke-width="1.45" stroke-dasharray="3.3 3.3"/>
<line x1="335.00" y1="413.50" x2="633.80" y2="413.50" stroke="#bebebe" stroke-width="1.45" stroke-dasharray="3.3 3.3"/>
<line x1="335.00" y1="422.80" x2="633.80" y2="422.80" stroke="#bebebe" stroke-width="1.45" stroke-dasharray="3.3 3.3"/>
<line x1="335.00" y1="432.10" x2="633.80" y2="432.10" stroke="#bebebe" stroke-width="1.45" stroke-dasharray="3.3 3.3"/>
<line x1="335.00" y1="441.39" x2="633.80" y2="441.39" stroke="#bebebe" stroke-width="1.45" stroke-dasharray="3.3 3.3"/>
<line x1="335.00" y1="450.69" x2="633.80" y2="450.69" stroke="#bebebe" stroke-width="1.45" stroke-dasharray="3.3 3.3"/>
<line x1="335.00" y1="459.98" x2="633.80" y2="459.98" stroke="#bebebe" stroke-width="1.45" stroke-dasharray="3.3 3.3"/>
<line x1="335.00" y1="469.27" x2="633.80" y2="469.27" stroke="#bebebe" stroke-width="1.45" stroke-dasharray="3.3 3.3"/>
<line x1="335.00" y1="478.57" x2="633.80" y2="478.57" stroke="#bebebe" stroke-width="1.45" stroke-dasharray="3.3 3.3"/>
<line x1="335.00" y1="487.87" x2="633.80" y2="487.87" stroke="#bebebe" stroke-width="1.45" stroke-dasharray="3.3 3.3"/>
<line x1="335.00" y1="497.16" x2="633.80" y2="497.16" stroke="#bebebe" stroke-width="1.45" stroke-dasharray="3.3 3.3"/>
<line x1="335.00" y1="506.46" x2="633.80" y2="506.46" stroke="#bebebe" stroke-width="1.45" stroke-dasharray="3.3 3.3"/>
<line x1="335.00" y1="515.75" x2="633.80" y2="515.75" stroke="#bebebe" stroke-width="1.45" stroke-dasharray="3.3 3.3"/>
<line x1="335.00" y1="525.04" x2="633.80" y2="525.04" stroke="#bebebe" stroke-width="1.45" stroke-dasharray="3.3 3.3"/>
<line x1="335.00" y1="534.34" x2="633.80" y2="534.34" stroke="#bebebe" stroke-width="1.45" stroke-dasharray="3.3 3.3"/>
<line x1="335.00" y1="543.63" x2="633.80" y2="543.63" stroke="#bebebe" stroke-width="1.45" stroke-dasharray="3.3 3.3"/>
<line x1="335.00" y1="552.93" x2="633.80" y2="552.93" stroke="#bebebe" stroke-width="1.45" stroke-dasharray="3.3 3.3"/>
<line x1="335.00" y1="562.23" x2="633.80" y2="562.23" stroke="#bebebe" stroke-width="1.45" stroke-dasharray="3.3 3.3"/>
<line x1="335.00" y1="571.52" x2="633.80" y2="571.52" stroke="#bebebe" stroke-width="1.45" stroke-dasharray="3.3 3.3"/>
<line x1="335.00" y1="580.82" x2="633.80" y2="580.82" stroke="#bebebe" stroke-width="1.45" stroke-dasharray="3.3 3.3"/>
<line x1="335.00" y1="590.11" x2="633.80" y2="590.11" stroke="#bebebe" stroke-width="1.45" stroke-dasharray="3.3 3.3"/>
<line x1="335.00" y1="599.40" x2="633.80" y2="599.40" stroke="#bebebe" stroke-width="1.45" stroke-dasharray="3.3 3.3"/>
<text transform="translate(329.00,239.60) scale(0.1)" font-size="69.5" text-anchor="end" font-weight="normal" font-style="normal" >GOBP_KERATINIZATION</text>
<line x1="332.00" y1="236.90" x2="335.10" y2="236.90" stroke="#111" stroke-width="1.25" />
<rect x="485.50" y="234.05" width="134.40" height="5.70" fill="#ec0000" />
<use href="#st" x="623.75" y="236.90"/>
<use href="#st" x="630.20" y="236.90"/>
<use href="#st" x="636.65" y="236.90"/>
<text transform="translate(329.00,248.89) scale(0.1)" font-size="69.5" text-anchor="end" font-weight="normal" font-style="normal" >GOBP_COLLAGEN_FIBRIL_ORGANIZATION</text>
<line x1="332.00" y1="246.19" x2="335.10" y2="246.19" stroke="#111" stroke-width="1.25" />
<rect x="485.50" y="243.34" width="125.90" height="5.70" fill="#ec0000" />
<use href="#st" x="615.25" y="246.19"/>
<use href="#st" x="621.70" y="246.19"/>
<use href="#st" x="628.15" y="246.19"/>
<text transform="translate(327.00,258.19) scale(0.1)" font-size="69.5" text-anchor="end" font-weight="normal" font-style="normal" >GOBP_INTERMEDIATE_FILAMENT_ORGANIZATION</text>
<line x1="332.00" y1="255.49" x2="335.10" y2="255.49" stroke="#111" stroke-width="1.25" />
<rect x="485.50" y="252.64" width="125.90" height="5.70" fill="#ec0000" />
<use href="#st" x="615.25" y="255.49"/>
<use href="#st" x="621.70" y="255.49"/>
<use href="#st" x="628.15" y="255.49"/>
<text transform="translate(329.00,267.49) scale(0.1)" font-size="69.5" text-anchor="end" font-weight="normal" font-style="normal" >GOBP_INTERMEDIATE_FILAMENT_BASED_PROCESS</text>
<line x1="332.00" y1="264.79" x2="335.10" y2="264.79" stroke="#111" stroke-width="1.25" />
<rect x="485.50" y="261.94" width="125.30" height="5.70" fill="#ec0000" />
<use href="#st" x="614.65" y="264.79"/>
<use href="#st" x="621.10" y="264.79"/>
<use href="#st" x="627.55" y="264.79"/>
<text transform="translate(329.00,276.78) scale(0.1)" font-size="69.5" text-anchor="end" font-weight="normal" font-style="normal" >GOBP_COLLAGEN_CATABOLIC_PROCESS</text>
<line x1="332.00" y1="274.08" x2="335.10" y2="274.08" stroke="#111" stroke-width="1.25" />
<rect x="485.50" y="271.23" width="119.70" height="5.70" fill="#ec0000" />
<use href="#st" x="609.05" y="274.08"/>
<use href="#st" x="615.50" y="274.08"/>
<use href="#st" x="621.95" y="274.08"/>
<text transform="translate(329.00,286.07) scale(0.1)" font-size="69.5" text-anchor="end" font-weight="normal" font-style="normal" >GOBP_KERATINOCYTE_DIFFERENTIATION</text>
<line x1="332.00" y1="283.38" x2="335.10" y2="283.38" stroke="#111" stroke-width="1.25" />
<rect x="485.50" y="280.52" width="117.20" height="5.70" fill="#ec0000" />
<use href="#st" x="606.55" y="283.38"/>
<use href="#st" x="613.00" y="283.38"/>
<use href="#st" x="619.45" y="283.38"/>
<text transform="translate(329.00,295.37) scale(0.1)" font-size="69.5" text-anchor="end" font-weight="normal" font-style="normal" >GOBP_CARTILAGE_DEVELOPMENT</text>
<line x1="332.00" y1="292.67" x2="335.10" y2="292.67" stroke="#111" stroke-width="1.25" />
<rect x="485.50" y="289.82" width="111.60" height="5.70" fill="#ec0000" />
<use href="#st" x="600.95" y="292.67"/>
<use href="#st" x="607.40" y="292.67"/>
<use href="#st" x="613.85" y="292.67"/>
<text transform="translate(329.00,304.67) scale(0.1)" font-size="69.5" text-anchor="end" font-weight="normal" font-style="normal" >GOBP_COLLAGEN_METABOLIC_PROCESS</text>
<line x1="332.00" y1="301.97" x2="335.10" y2="301.97" stroke="#111" stroke-width="1.25" />
<rect x="485.50" y="299.12" width="111.60" height="5.70" fill="#ec0000" />
<use href="#st" x="600.95" y="301.97"/>
<use href="#st" x="607.40" y="301.97"/>
<use href="#st" x="613.85" y="301.97"/>
<text transform="translate(329.00,313.96) scale(0.1)" font-size="69.5" text-anchor="end" font-weight="normal" font-style="normal" >GOBP_SKIN_DEVELOPMENT</text>
<line x1="332.00" y1="311.26" x2="335.10" y2="311.26" stroke="#111" stroke-width="1.25" />
<rect x="485.50" y="308.41" width="110.30" height="5.70" fill="#ec0000" />
<use href="#st" x="599.65" y="311.26"/>
<use href="#st" x="606.10" y="311.26"/>
<use href="#st" x="612.55" y="311.26"/>
<text transform="translate(329.00,323.25) scale(0.1)" font-size="69.5" text-anchor="end" font-weight="normal" font-style="normal" >GOBP_EXTERNAL_ENCAPSULATING_STRUCTURE_ORGANIZATION</text>
<line x1="332.00" y1="320.56" x2="335.10" y2="320.56" stroke="#111" stroke-width="1.25" />
<rect x="485.50" y="317.70" width="110.30" height="5.70" fill="#ec0000" />
<use href="#st" x="599.65" y="320.56"/>
<use href="#st" x="606.10" y="320.56"/>
<use href="#st" x="612.55" y="320.56"/>
<text transform="translate(329.00,332.55) scale(0.1)" font-size="69.5" text-anchor="end" font-weight="normal" font-style="normal" >GOBP_EXTRACELLULAR_MATRIX_DISASSEMBLY</text>
<line x1="332.00" y1="329.85" x2="335.10" y2="329.85" stroke="#111" stroke-width="1.25" />
<rect x="485.50" y="327.00" width="109.30" height="5.70" fill="#ec0000" />
<use href="#st" x="598.65" y="329.85"/>
<use href="#st" x="605.10" y="329.85"/>
<text transform="translate(329.00,341.84) scale(0.1)" font-size="69.5" text-anchor="end" font-weight="normal" font-style="normal" >GOBP_CHONDROCYTE_DIFFERENTIATION</text>
<line x1="332.00" y1="339.14" x2="335.10" y2="339.14" stroke="#111" stroke-width="1.25" />
<rect x="485.50" y="336.29" width="109.30" height="5.70" fill="#ec0000" />
<use href="#st" x="598.65" y="339.14"/>
<use href="#st" x="605.10" y="339.14"/>
<use href="#st" x="611.55" y="339.14"/>
<text transform="translate(329.00,351.14) scale(0.1)" font-size="69.5" text-anchor="end" font-weight="normal" font-style="normal" >GOBP_ENDOCHONDRAL_BONE_MORPHOGENESIS</text>
<line x1="332.00" y1="348.44" x2="335.10" y2="348.44" stroke="#111" stroke-width="1.25" />
<rect x="485.50" y="345.59" width="109.00" height="5.70" fill="#ec0000" />
<use href="#st" x="598.35" y="348.44"/>
<use href="#st" x="604.80" y="348.44"/>
<text transform="translate(329.00,360.44) scale(0.1)" font-size="69.5" text-anchor="end" font-weight="normal" font-style="normal" >GOBP_ARTERY_MORPHOGENESIS</text>
<line x1="332.00" y1="357.74" x2="335.10" y2="357.74" stroke="#111" stroke-width="1.25" />
<rect x="485.50" y="354.88" width="108.60" height="5.70" fill="#ec0000" />
<use href="#st" x="597.95" y="357.74"/>
<use href="#st" x="604.40" y="357.74"/>
<text transform="translate(329.00,369.73) scale(0.1)" font-size="69.5" text-anchor="end" font-weight="normal" font-style="normal" >GOBP_REGULATION_OF_ANIMAL_ORGAN_MORPHOGENESIS</text>
<line x1="332.00" y1="367.03" x2="335.10" y2="367.03" stroke="#111" stroke-width="1.25" />
<rect x="485.50" y="364.18" width="108.60" height="5.70" fill="#ec0000" />
<use href="#st" x="597.95" y="367.03"/>
<use href="#st" x="604.40" y="367.03"/>
<use href="#st" x="610.85" y="367.03"/>
<text transform="translate(329.00,379.03) scale(0.1)" font-size="69.5" text-anchor="end" font-weight="normal" font-style="normal" >GOBP_ARTERY_DEVELOPMENT</text>
<line x1="332.00" y1="376.33" x2="335.10" y2="376.33" stroke="#111" stroke-width="1.25" />
<rect x="485.50" y="373.48" width="108.40" height="5.70" fill="#ec0000" />
<use href="#st" x="597.75" y="376.33"/>
<use href="#st" x="604.20" y="376.33"/>
<use href="#st" x="610.65" y="376.33"/>
<text transform="translate(329.00,388.32) scale(0.1)" font-size="69.5" text-anchor="end" font-weight="normal" font-style="normal" >GOBP_NEGATIVE_REGULATION_OF_CARTILAGE_DEVELOPMENT</text>
<line x1="332.00" y1="385.62" x2="335.10" y2="385.62" stroke="#111" stroke-width="1.25" />
<rect x="485.50" y="382.77" width="108.00" height="5.70" fill="#ec0000" />
<use href="#st" x="597.35" y="385.62"/>
<use href="#st" x="603.80" y="385.62"/>
<text transform="translate(329.00,397.61) scale(0.1)" font-size="69.5" text-anchor="end" font-weight="normal" font-style="normal" >GOBP_REGULATION_OF_CHONDROCYTE_DIFFERENTIATION</text>
<line x1="332.00" y1="394.91" x2="335.10" y2="394.91" stroke="#111" stroke-width="1.25" />
<rect x="485.50" y="392.06" width="108.00" height="5.70" fill="#ec0000" />
<use href="#st" x="597.35" y="394.91"/>
<use href="#st" x="603.80" y="394.91"/>
<text transform="translate(329.00,406.91) scale(0.1)" font-size="69.5" text-anchor="end" font-weight="normal" font-style="normal" >GOBP_NEGATIVE_REGULATION_OF_BMP_SIGNALING_PATHWAY</text>
<line x1="332.00" y1="404.21" x2="335.10" y2="404.21" stroke="#111" stroke-width="1.25" />
<rect x="485.50" y="401.36" width="108.00" height="5.70" fill="#ec0000" />
<use href="#st" x="597.35" y="404.21"/>
<use href="#st" x="603.80" y="404.21"/>
<text transform="translate(329.00,416.20) scale(0.1)" font-size="69.5" text-anchor="end" font-weight="normal" font-style="normal" >GOBP_OUTFLOW_TRACT_MORPHOGENESIS</text>
<line x1="332.00" y1="413.50" x2="335.10" y2="413.50" stroke="#111" stroke-width="1.25" />
<rect x="485.50" y="410.65" width="107.60" height="5.70" fill="#ec0000" />
<use href="#st" x="596.95" y="413.50"/>
<use href="#st" x="603.40" y="413.50"/>
<use href="#st" x="609.85" y="413.50"/>
<text transform="translate(329.00,425.50) scale(0.1)" font-size="69.5" text-anchor="end" font-weight="normal" font-style="normal" >GOBP_ODONTOGENESIS_OF_DENTIN_CONTAINING_TOOTH</text>
<line x1="332.00" y1="422.80" x2="335.10" y2="422.80" stroke="#111" stroke-width="1.25" />
<rect x="485.50" y="419.95" width="107.60" height="5.70" fill="#ec0000" />
<use href="#st" x="596.95" y="422.80"/>
<use href="#st" x="603.40" y="422.80"/>
<use href="#st" x="609.85" y="422.80"/>
<text transform="translate(329.00,434.80) scale(0.1)" font-size="69.5" text-anchor="end" font-weight="normal" font-style="normal" >GOBP_REGULATION_OF_EXTRACELLULAR_MATRIX_DISASSEMBLY</text>
<line x1="332.00" y1="432.10" x2="335.10" y2="432.10" stroke="#111" stroke-width="1.25" />
<rect x="485.50" y="429.25" width="107.60" height="5.70" fill="#ec0000" />
<use href="#st" x="596.95" y="432.10"/>
<use href="#st" x="603.40" y="432.10"/>
<text transform="translate(329.00,444.09) scale(0.1)" font-size="69.5" text-anchor="end" font-weight="normal" font-style="normal" >GOBP_REGULATION_OF_CYTOSOLIC_CALCIUM_ION_CONCENTRATION</text>
<line x1="332.00" y1="441.39" x2="335.10" y2="441.39" stroke="#111" stroke-width="1.25" />
<rect x="485.50" y="438.54" width="107.30" height="5.70" fill="#ec0000" />
<use href="#st" x="596.65" y="441.39"/>
<use href="#st" x="603.10" y="441.39"/>
<text transform="translate(329.00,453.38) scale(0.1)" font-size="69.5" text-anchor="end" font-weight="normal" font-style="normal" >GOBP_REGULATION_OF_ESTABLISHMENT_OF_PLANAR_POLARITY</text>
<line x1="332.00" y1="450.69" x2="335.10" y2="450.69" stroke="#111" stroke-width="1.25" />
<rect x="485.50" y="447.83" width="106.50" height="5.70" fill="#ec0000" />
<use href="#st" x="595.85" y="450.69"/>
<use href="#st" x="602.30" y="450.69"/>
<text transform="translate(329.00,462.68) scale(0.1)" font-size="69.5" text-anchor="end" font-weight="normal" font-style="normal" >GOBP_POSITIVE_REGULATION_OF_SYNAPTIC_TRANSMISSION</text>
<line x1="332.00" y1="459.98" x2="335.10" y2="459.98" stroke="#111" stroke-width="1.25" />
<rect x="485.50" y="457.13" width="105.80" height="5.70" fill="#ec0000" />
<use href="#st" x="595.15" y="459.98"/>
<use href="#st" x="601.60" y="459.98"/>
<use href="#st" x="608.05" y="459.98"/>
<text transform="translate(329.00,471.97) scale(0.1)" font-size="69.5" text-anchor="end" font-weight="normal" font-style="normal" >GOBP_EPIDERMIS_DEVELOPMENT</text>
<line x1="332.00" y1="469.27" x2="335.10" y2="469.27" stroke="#111" stroke-width="1.25" />
<rect x="485.50" y="466.42" width="105.50" height="5.70" fill="#ec0000" />
<use href="#st" x="594.85" y="469.27"/>
<use href="#st" x="601.30" y="469.27"/>
<use href="#st" x="607.75" y="469.27"/>
<text transform="translate(329.00,481.27) scale(0.1)" font-size="69.5" text-anchor="end" font-weight="normal" font-style="normal" >GOBP_DIGESTION</text>
<line x1="332.00" y1="478.57" x2="335.10" y2="478.57" stroke="#111" stroke-width="1.25" />
<rect x="376.50" y="475.72" width="108.00" height="5.70" fill="#4169e1" />
<use href="#st" x="371.70" y="478.57"/>
<use href="#st" x="365.25" y="478.57"/>
<use href="#st" x="358.80" y="478.57"/>
<text transform="translate(329.00,490.56) scale(0.1)" font-size="69.5" text-anchor="end" font-weight="normal" font-style="normal" >GOBP_XENOBIOTIC_METABOLIC_PROCESS</text>
<line x1="332.00" y1="487.87" x2="335.10" y2="487.87" stroke="#111" stroke-width="1.25" />
<rect x="376.00" y="485.01" width="108.50" height="5.70" fill="#4169e1" />
<use href="#st" x="371.20" y="487.87"/>
<use href="#st" x="364.75" y="487.87"/>
<use href="#st" x="358.30" y="487.87"/>
<text transform="translate(329.00,499.86) scale(0.1)" font-size="69.5" text-anchor="end" font-weight="normal" font-style="normal" >GOBP_ALPHA_AMINO_ACID_CATABOLIC_PROCESS</text>
<line x1="332.00" y1="497.16" x2="335.10" y2="497.16" stroke="#111" stroke-width="1.25" />
<rect x="375.20" y="494.31" width="109.30" height="5.70" fill="#4169e1" />
<use href="#st" x="370.40" y="497.16"/>
<use href="#st" x="363.95" y="497.16"/>
<text transform="translate(329.00,509.16) scale(0.1)" font-size="69.5" text-anchor="end" font-weight="normal" font-style="normal" >GOBP_ATP_SYNTHESIS_COUPLED_ELECTRON_TRANSPORT</text>
<line x1="332.00" y1="506.46" x2="335.10" y2="506.46" stroke="#111" stroke-width="1.25" />
<rect x="374.70" y="503.61" width="109.80" height="5.70" fill="#4169e1" />
<use href="#st" x="369.90" y="506.46"/>
<use href="#st" x="363.45" y="506.46"/>
<text transform="translate(329.00,518.45) scale(0.1)" font-size="69.5" text-anchor="end" font-weight="normal" font-style="normal" >GOBP_MITOCHONDRIAL_RESPIRATORY_CHAIN_COMPLEX_ASSEMBLY</text>
<line x1="332.00" y1="515.75" x2="335.10" y2="515.75" stroke="#111" stroke-width="1.25" />
<rect x="374.40" y="512.90" width="110.10" height="5.70" fill="#4169e1" />
<use href="#st" x="369.60" y="515.75"/>
<use href="#st" x="363.15" y="515.75"/>
<text transform="translate(329.00,527.75) scale(0.1)" font-size="69.5" text-anchor="end" font-weight="normal" font-style="normal" >GOBP_FLAVONE_METABOLIC_PROCESS</text>
<line x1="332.00" y1="525.04" x2="335.10" y2="525.04" stroke="#111" stroke-width="1.25" />
<rect x="368.60" y="522.19" width="115.90" height="5.70" fill="#4169e1" />
<use href="#st" x="363.80" y="525.04"/>
<use href="#st" x="357.35" y="525.04"/>
<use href="#st" x="350.90" y="525.04"/>
<text transform="translate(329.00,537.04) scale(0.1)" font-size="69.5" text-anchor="end" font-weight="normal" font-style="normal" >GOBP_RESPIRATORY_ELECTRON_TRANSPORT_CHAIN</text>
<line x1="332.00" y1="534.34" x2="335.10" y2="534.34" stroke="#111" stroke-width="1.25" />
<rect x="367.80" y="531.49" width="116.70" height="5.70" fill="#4169e1" />
<use href="#st" x="363.00" y="534.34"/>
<use href="#st" x="356.55" y="534.34"/>
<use href="#st" x="350.10" y="534.34"/>
<text transform="translate(329.00,546.34) scale(0.1)" font-size="69.5" text-anchor="end" font-weight="normal" font-style="normal" >GOBP_ESTROGEN_METABOLIC_PROCESS</text>
<line x1="332.00" y1="543.63" x2="335.10" y2="543.63" stroke="#111" stroke-width="1.25" />
<rect x="363.90" y="540.78" width="120.60" height="5.70" fill="#4169e1" />
<use href="#st" x="359.10" y="543.63"/>
<use href="#st" x="352.65" y="543.63"/>
<text transform="translate(329.00,555.63) scale(0.1)" font-size="69.5" text-anchor="end" font-weight="normal" font-style="normal" >GOBP_DISRUPTION_OF_CELLULAR_ANATOMICAL_STRUCTURE_IN_ANOTHER_ORGANISM</text>
<line x1="332.00" y1="552.93" x2="335.10" y2="552.93" stroke="#111" stroke-width="1.25" />
<rect x="356.80" y="550.08" width="127.70" height="5.70" fill="#4169e1" />
<use href="#st" x="352.00" y="552.93"/>
<use href="#st" x="345.55" y="552.93"/>
<use href="#st" x="339.10" y="552.93"/>
<text transform="translate(329.00,564.93) scale(0.1)" font-size="69.5" text-anchor="end" font-weight="normal" font-style="normal" >GOBP_EPITHELIAL_STRUCTURE_MAINTENANCE</text>
<line x1="332.00" y1="562.23" x2="335.10" y2="562.23" stroke="#111" stroke-width="1.25" />
<rect x="355.50" y="559.38" width="129.00" height="5.70" fill="#4169e1" />
<use href="#st" x="350.70" y="562.23"/>
<use href="#st" x="344.25" y="562.23"/>
<text transform="translate(329.00,574.22) scale(0.1)" font-size="69.5" text-anchor="end" font-weight="normal" font-style="normal" >GOBP_CELLULAR_GLUCURONIDATION</text>
<line x1="332.00" y1="571.52" x2="335.10" y2="571.52" stroke="#111" stroke-width="1.25" />
<rect x="355.50" y="568.67" width="129.00" height="5.70" fill="#4169e1" />
<use href="#st" x="350.70" y="571.52"/>
<use href="#st" x="344.25" y="571.52"/>
<text transform="translate(329.00,583.52) scale(0.1)" font-size="69.5" text-anchor="end" font-weight="normal" font-style="normal" >GOBP_FLAVONOID_METABOLIC_PROCESS</text>
<line x1="332.00" y1="580.82" x2="335.10" y2="580.82" stroke="#111" stroke-width="1.25" />
<rect x="354.20" y="577.97" width="130.30" height="5.70" fill="#4169e1" />
<use href="#st" x="349.40" y="580.82"/>
<use href="#st" x="342.95" y="580.82"/>
<use href="#st" x="336.50" y="580.82"/>
<text transform="translate(329.00,592.81) scale(0.1)" font-size="69.5" text-anchor="end" font-weight="normal" font-style="normal" >GOBP_MAINTENANCE_OF_GASTROINTESTINAL_EPITHELIUM</text>
<line x1="332.00" y1="590.11" x2="335.10" y2="590.11" stroke="#111" stroke-width="1.25" />
<rect x="351.50" y="587.26" width="133.00" height="5.70" fill="#4169e1" />
<use href="#st" x="346.70" y="590.11"/>
<use href="#st" x="340.25" y="590.11"/>
<text transform="translate(329.00,602.11) scale(0.1)" font-size="69.5" text-anchor="end" font-weight="normal" font-style="normal" >GOBP_URONIC_ACID_METABOLIC_PROCESS</text>
<line x1="332.00" y1="599.40" x2="335.10" y2="599.40" stroke="#111" stroke-width="1.25" />
<rect x="348.40" y="596.55" width="136.10" height="5.70" fill="#4169e1" />
<use href="#st" x="343.60" y="599.40"/>
<use href="#st" x="337.15" y="599.40"/>
<use href="#st" x="330.70" y="599.40"/>
<line x1="485.05" y1="231.20" x2="485.05" y2="603.50" stroke="#b0b0b0" stroke-width="1.7" />
<line x1="485.05" y1="231.20" x2="485.05" y2="604.20" stroke="#000" stroke-width="1.7" stroke-dasharray="6.2 6.9"/>
<line x1="367.80" y1="605.40" x2="367.80" y2="607.90" stroke="#222" stroke-width="1.15" />
<text transform="translate(367.80,616.30) scale(0.1)" font-size="66.0" text-anchor="middle" font-weight="normal" font-style="normal" >−2</text>
<line x1="426.40" y1="605.40" x2="426.40" y2="607.90" stroke="#222" stroke-width="1.15" />
<text transform="translate(426.40,616.30) scale(0.1)" font-size="66.0" text-anchor="middle" font-weight="normal" font-style="normal" >−1</text>
<line x1="485.00" y1="605.40" x2="485.00" y2="607.90" stroke="#222" stroke-width="1.15" />
<text transform="translate(485.00,616.30) scale(0.1)" font-size="66.0" text-anchor="middle" font-weight="normal" font-style="normal" >0</text>
<line x1="543.60" y1="605.40" x2="543.60" y2="607.90" stroke="#222" stroke-width="1.15" />
<text transform="translate(543.60,616.30) scale(0.1)" font-size="66.0" text-anchor="middle" font-weight="normal" font-style="normal" >1</text>
<line x1="602.20" y1="605.40" x2="602.20" y2="607.90" stroke="#222" stroke-width="1.15" />
<text transform="translate(602.20,616.30) scale(0.1)" font-size="66.0" text-anchor="middle" font-weight="normal" font-style="normal" >2</text>
<text transform="translate(481.80,626.30) scale(0.1)" font-size="64.5" text-anchor="middle" font-weight="normal" font-style="normal" >Normalized enrichment score</text>
<text transform="translate(15.6,376.1) rotate(-90) scale(0.1)" font-size="67" text-anchor="middle">Pathway</text>
<rect x="639.60" y="402.00" width="16.10" height="15.60" fill="#ec0000" stroke="#9a9a9a" stroke-width="0.6"/>
<text transform="translate(658.90,413.70) scale(0.1)" font-size="68.0" text-anchor="start" font-weight="normal" font-style="normal" >UPK2+</text>
<rect x="639.60" y="430.80" width="16.10" height="15.60" fill="#4169e1" stroke="#9a9a9a" stroke-width="0.6"/>
<text transform="translate(658.90,442.00) scale(0.1)" font-size="68.0" text-anchor="start" font-weight="normal" font-style="normal" >UPK2−</text>
</svg>
</body></html>
